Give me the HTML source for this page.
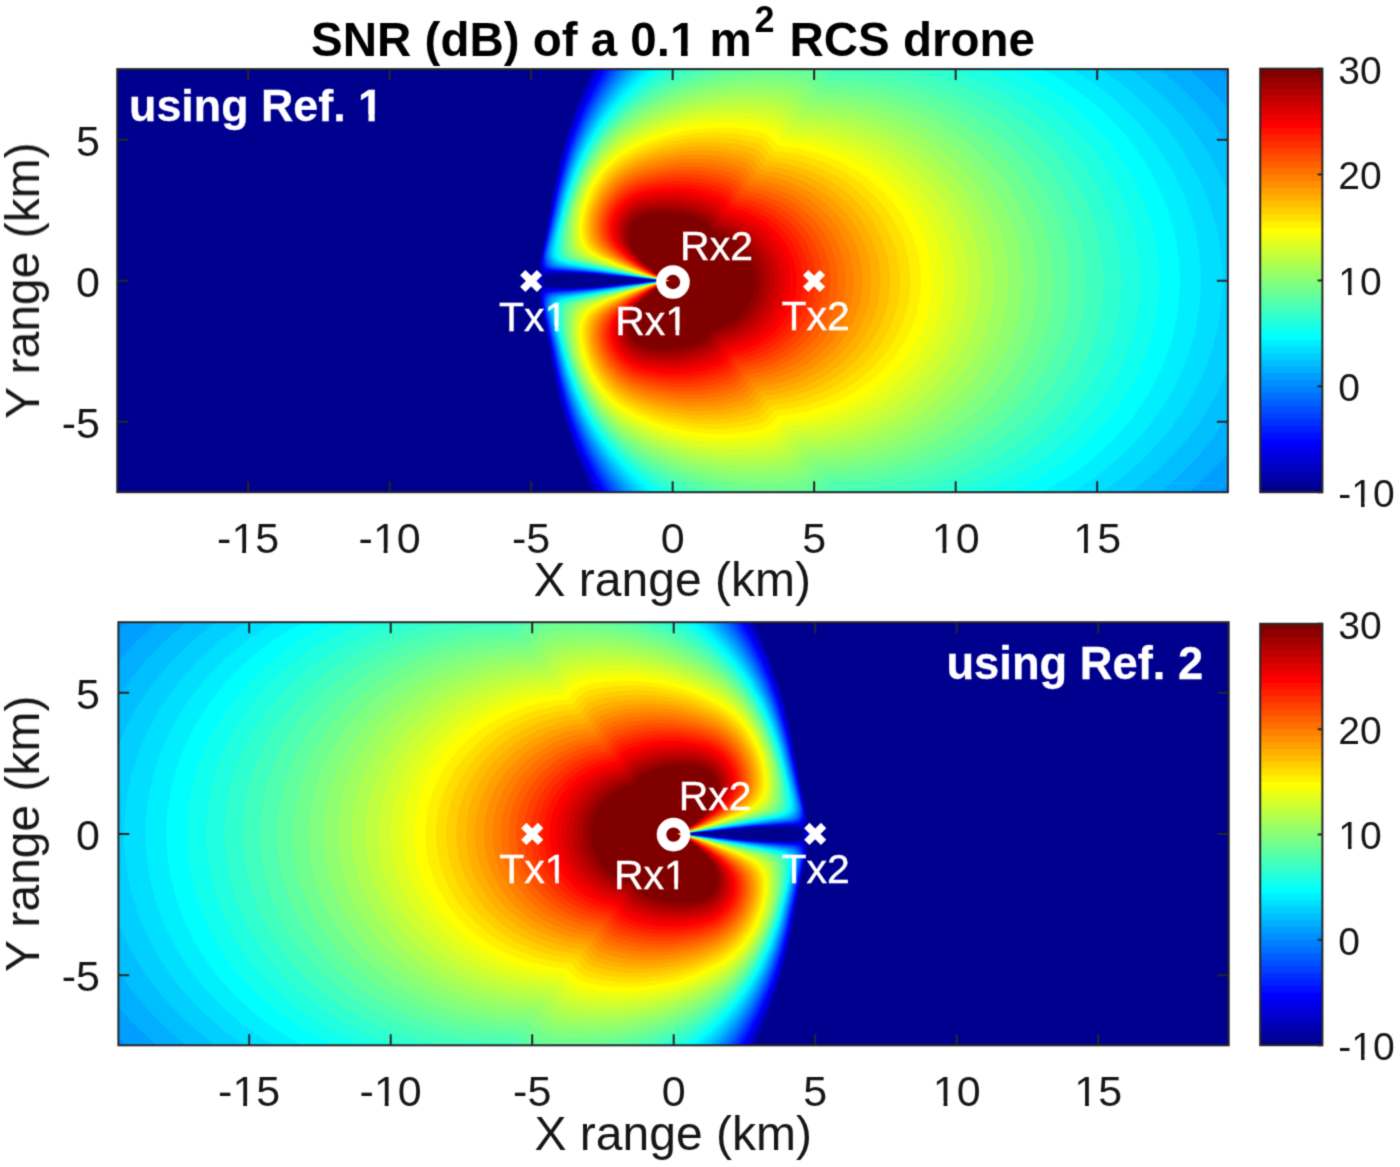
<!DOCTYPE html>
<html><head><meta charset="utf-8"><title>SNR (dB) of a 0.1 m2 RCS drone</title>
<style>
html,body{margin:0;padding:0;background:#fff;}
body{width:1400px;height:1167px;overflow:hidden;}
svg{display:block;}
text{font-family:"Liberation Sans",sans-serif;}
</style></head>
<body>
<svg width="1400" height="1167" viewBox="0 0 1400 1167" font-family="Liberation Sans, sans-serif">
<defs><filter id="soft" x="0" y="0" width="1400" height="1167" filterUnits="userSpaceOnUse" color-interpolation-filters="sRGB"><feConvolveMatrix order="3" kernelMatrix="0.0276 0.1111 0.0276 0.1111 0.4452 0.1111 0.0276 0.1111 0.0276" edgeMode="duplicate" preserveAlpha="true"/></filter>
<clipPath id="cp0"><rect x="117.25" y="69.1" width="1110.65" height="423.1"/></clipPath>
<clipPath id="cp1"><rect x="118.4" y="622.2" width="1110.3" height="423.1"/></clipPath>
<mask id="nf" maskUnits="userSpaceOnUse" x="0" y="0" width="1400" height="1167"><rect width="1400" height="1167" fill="#fff"/><g fill="#000"><rect x="233.49" y="547.75" width="8.66" height="6.75"/><rect x="246.04" y="547.75" width="8.35" height="6.75"/><rect x="374.99" y="547.75" width="8.66" height="6.75"/><rect x="387.54" y="547.75" width="8.35" height="6.75"/><rect x="933.84" y="547.75" width="8.66" height="6.75"/><rect x="946.38" y="547.75" width="8.35" height="6.75"/><rect x="1075.34" y="547.75" width="8.66" height="6.75"/><rect x="1087.88" y="547.75" width="8.35" height="6.75"/><rect x="1353.1" y="502.15" width="7.95" height="6.45"/><rect x="1364.58" y="502.15" width="7.67" height="6.45"/><rect x="1340.12" y="290.4" width="7.95" height="6.45"/><rect x="1351.59" y="290.4" width="7.67" height="6.45"/><rect x="234.54" y="1101.15" width="8.66" height="6.75"/><rect x="247.09" y="1101.15" width="8.35" height="6.75"/><rect x="376.04" y="1101.15" width="8.66" height="6.75"/><rect x="388.59" y="1101.15" width="8.35" height="6.75"/><rect x="934.89" y="1101.15" width="8.66" height="6.75"/><rect x="947.43" y="1101.15" width="8.35" height="6.75"/><rect x="1076.39" y="1101.15" width="8.66" height="6.75"/><rect x="1088.93" y="1101.15" width="8.35" height="6.75"/><rect x="1353.1" y="1055.15" width="7.95" height="6.45"/><rect x="1364.58" y="1055.15" width="7.67" height="6.45"/><rect x="1340.12" y="844.45" width="7.95" height="6.45"/><rect x="1351.59" y="844.45" width="7.67" height="6.45"/><rect x="546.49" y="325.9" width="8.31" height="6.6"/><rect x="558.5" y="325.9" width="8.01" height="6.6"/><rect x="667.26" y="329.9" width="8.31" height="6.6"/><rect x="679.27" y="329.9" width="8.01" height="6.6"/><rect x="546.79" y="877.9" width="8.31" height="6.6"/><rect x="558.8" y="877.9" width="8.01" height="6.6"/><rect x="665.96" y="883.9" width="8.31" height="6.6"/><rect x="677.97" y="883.9" width="8.01" height="6.6"/><rect x="359.69" y="114.38" width="8.79" height="8.12"/><rect x="374.72" y="114.38" width="8.24" height="8.12"/><rect x="671.77" y="48.81" width="9.26" height="8.39"/><rect x="687.64" y="48.81" width="8.68" height="8.39"/></g></mask>
</defs>
<g filter="url(#soft)">
<rect width="1400" height="1167" fill="#fff"/>
<g clip-path="url(#cp0)">
<rect x="117" y="69" width="1111" height="424" fill="#00008f"/>
<path fill="#00009f" d="M1227.5 492.5l-635.8 0-15.2-35.6-12-36.3-6-23.4-4.7-22.7-7.6-44-4.9-24-1.5-10 0-7-1-2-6.3-4.5-1.1-2.5 1.1-2 5.8-4 1.4-2 0-7 1.7-11 4.7-23 7.8-45 4.8-23 5.8-22.6 12-36.3 15-35.1 636 0 0 423zM580.4 287.5l36.1-2.6 42.5-4.4-60.5-5.4-31-1.4-12 0.4-8 1.3-3 1.7-1.3 3.4 1.4 4 4.9 2.1 12 1.1 18.9-0.2z"/>
<path fill="#0000af" d="M1227.5 492.5l-634.1 0-15.9-36.3-12-35.3-6.4-24.4-5.6-26.7-13-70.3 0-11-1.6-2-6.4-3.6-1.1-2.4 1.1-1.9 7.1-4.1 0.9-1.5-0.4-7.5 1.4-10 5.2-25 6.8-38.8 5.7-27.2 6.3-23.9 12-35.3 15.7-35.8 634.3 0 0 423zM586.1 287.5l68.4-6 5.4-1-58.4-5.4-29-1.7-23 0.8-5 1.2-1.7 2.1-0.6 3 0.8 4 1.5 1.6 2 0.7 16 1.4 23.6-0.7z"/>
<path fill="#0000bf" d="M1227.5 492.5l-632.3 0-9.7-20.4-9-21.7-8-22.8-6.1-21.1-6.9-29.5-8.5-46.5-5.1-24-1.4-10 1.3-7 0.7-1.4 1-0.4 20 0.9 22-0.8 69.8-6.3 5.4-1-77.2-6.9-21-0.7-19 0.9-1-0.4-1-2.4-1-6.5 1.5-10 4.9-23 8.6-47 7-30 6.5-22 7.5-21.4 9-21.7 9.5-19.9 632.5 0 0 423zM540.5 285.6l-3-0.3-4-1.7-2-1.9 0-1.9 4-2.9 5-1 1.1 2.6-0.1 5.2-1 1.9z"/>
<path fill="#0000cf" d="M1227.5 492.5l-630.4 0-10.6-21.6-9-21.2-7.7-21.2-6.3-20.9-7-28.9-9.3-49.2-4.7-21.4-1.5-10.6 0.8-5 1.7-3 2-0.7 22 0.1 22-1.1 71.9-7.3-74.9-7-20-0.9-21 0.1-2.5-1.2-1.3-3-0.7-5 1.5-10 4.6-21 9.4-49.7 7-28.9 6.5-21.4 7.5-20.7 9-21.2 10.3-21.1 630.7 0 0 423zM539.5 284.6l-3 0.1-3-1.2-2-1.9 0-1.8 4-2.7 4-0.2 1.2 2.6-0.2 3.7-1 1.4z"/>
<path fill="#0000df" d="M1227.5 492.5l-628.5 0-10.5-20.6-9-20.4-8-21.2-6.9-21.8-7.5-30-9.3-48-5.1-23-1.3-9 0.5-4 1.6-3.4 3.8-1.6 23.2-0.3 21-1.3 70.6-7.4-73.6-7.2-41-1.3-3.9-1.5-1.5-3-0.7-4 1.2-9 5.1-23 9.3-48 7.5-30.1 7-22.2 8-21.2 9-20.4 10.2-20.1 628.8 0 0 423zM538.5 284.1l-2 0.2-3-0.9-2-1.8 0-1.7 3-2.2 4.2-0.2 0.9 1 0.4 3-1.5 2.6z"/>
<path fill="#0000ef" d="M1227.5 492.5l-626.6 0-10.4-19.8-10-21.9-8-20.7-7-21.6-8-31.3-9.4-47.7-4.8-21-1.4-10 0.6-3.6 2-3.4 4-1.4 45-2.1 69.2-7.5-73.2-7.4-41-1.7-4-1.4-2-3.5-0.6-4 1.5-10 4.6-20 9.5-48.2 8-31.3 7-21.6 8-20.7 9-19.9 11.1-21.3 626.9 0 0 423zM537.5 283.8l-2 0.1-3-1.3-1-1 0-1.7 4-2.3 3 0.6 0.8 3.3-1.8 2.3z"/>
<path fill="#0000ff" d="M1227.5 492.5l-624.6 0-10.4-19.1-10-21.1-8.4-20.8-7.4-22-10.2-39.9-7.8-39.1-5.3-23-1-8 0.4-3 2-4 4.7-1.8 46-2.6 67.7-7.6-71.7-7.5-42-2.2-4.1-1.3-2.5-4-0.5-3 1.1-9 15-70.7 8-30.2 7-21 9-22.4 9-19.1 11.2-20.6 624.8 0 0 423zM536.5 283.6l-4-1-1-1 0-1.7 3-1.9 3.4 0.5 0.8 3-0.4 1-1.8 1.1z"/>
<path fill="#0010ff" d="M1227.5 492.5l-622.5 0-10.5-18.6-10-20.3-9-21.4-7-19.9-10.3-37.8-14.4-67-0.8-8 0.5-3.1 1.6-2.9 4.4-2.1 48-3.2 66.2-7.7-71.2-7.6-42-2.6-4.9-1.8-2.3-4-0.3-3 0.7-7 12.8-59.7 5-21.3 6-21.2 7-20.3 9-21.9 10-20.6 11.2-20 622.8 0 0 423zM537.5 282.6l-2 0.8-2-0.4-2-1.5 0-1.6 3-1.7 2.5 0.3 1.1 2-0.6 2.1z"/>
<path fill="#0020ff" d="M1227.5 492.5l-620.3 0-11.7-20-10-19.8-9-20.9-7-19.4-6-19.8-5-19.9-14.1-64.2-0.8-8 0.4-3 1.4-3 2.1-1.7 3-0.9 48-3.6 65.7-7.8-69.7-7.7-43-3-5-1.7-2.4-3.6-0.4-6 0.8-6.1 15-67.9 9-32.4 8-22.4 9-20.9 10-19.8 11.4-19.5 620.6 0 0 423zM536.5 282.8l-2 0.3-2-0.7-1-0.9 0-1.6 2-1.3 3 0.1 1.1 1.8-1.1 2.3z"/>
<path fill="#0030ff" d="M1227.5 492.5l-618.1 0-11.9-19.7-10-19-9-20.1-7.6-20.2-5.8-18-5.3-20-15.6-72 0.3-5 1.2-3 2.2-2 3.6-1.1 45-3.6 68.1-8.3-72.1-8.2-40-3-5.4-1.8-2.5-4-0.1-9 13-58.4 6-24.3 6-19.8 8-21.8 9-20.4 10-19.3 12.6-21 618.4 0 0 423zM535.5 282.8l-3-0.4-1-0.9 0-1.5 3-1.4 2 0.6 0.6 2.3-1.6 1.3z"/>
<path fill="#0040ff" d="M1227.5 492.5l-615.8 0-12.2-19.5-11-20.3-9-19.5-8-20.7-6-18.7-5-18.5-15-65.6-0.8-6.2 0.6-5 1.2-2.6 2-1.8 4-1.3 46-4 66.5-8.3-71.5-8.4-40-3.3-5-1.4-2-1.8-1.1-2.1-0.7-6 0.8-5.7 15-65.6 10-34.3 8-21.2 10-21.9 11-20.3 11.9-19 616.1 0 0 423zM535.5 282.6l-3-0.3-1-0.9 0-1.4 2-1.1 2.8 0.6 0.3 2-1.1 1.1z"/>
<path fill="#0050ff" d="M1227.5 492.5l-613.4 0-12.6-19.4-10-17.6-10-20.7-8-19.7-6-17.5-6-21.2-16.3-71.9 1-6 0.9-2 2.5-2 3.9-1.2 46-4.3 65.9-8.5-70.9-8.5-39.2-3.5-6.6-2-1.9-2-0.8-2-0.7-5 0.3-4 12.9-56.1 6-23.4 7-22.1 8-20.6 10-21.4 11-19.8 13.3-20.6 613.7 0 0 423zM534.5 282.6l-3-1.2 0-1.4 2-1 2.3 0.5 0.4 2-1.7 1.1z"/>
<path fill="#0060ff" d="M1227.5 492.5l-610.9 0-13.1-19.5-11-18.7-10-20.2-8-19.2-6.4-18.4-5.8-20-16.4-71 1.7-8 2.9-2.5 4-1.2 47-4.8 64.2-8.5-69.2-8.6-40-3.8-6.1-1.6-2.5-2-0.9-2-1.1-6 0.6-4.8 14.6-62.2 8.4-28.9 7-19.2 9-20.5 10-19.1 12-19.5 8.8-12.8 611.2 0 0 423zM535.5 281.8l-3 0.4-1-0.8 0-1.4 2-0.9 1.9 0.4 0.5 1-0.4 1.3z"/>
<path fill="#0070ff" d="M1227.5 492.5l-608.3 0-13.7-19.6-11-18.1-10-19.3-9-20.8-7-19.7-6-20.5-16-68.8 2.3-8.2 2.5-2 3.2-1.1 49-5.4 62.5-8.5-67.5-8.6-41.9-4.4-6.1-1.9-2.5-3.1-1.5-6 0.6-5 14.4-60.7 7.6-26.3 7.4-20.2 8-18.3 9-17.5 11-18.3 14.4-20.7 608.6 0 0 423zM534.5 282.1l-2 0-1-0.8 0-1.3 2-0.8 1.4 0.3 0.7 1-1.1 1.6z"/>
<path fill="#0080ff" d="M1227.5 492.5l-605.5 0-14.5-19.9-12-19.1-10-18.8-9-20.3-7-19.1-6-19.9-16.3-68.9 0.7-4 2.2-5 2.4-1.6 4-1.2 43-4.9 66.8-9.3-71.8-9.4-35-3.8-7.3-1.8-3.1-3-1.8-6 0.4-5 13.8-57.9 6.9-24.1 6.8-19 7.3-17.4 9-18 10-17 20.1-28.6 605.9 0 0 423zM534.5 281.9l-2 0.1-1-0.7 0-1.2 2.9-0.6 0.9 1-0.8 1.4z"/>
<path fill="#008fff" d="M1227.5 492.5l-602.6 0-15.4-20.3-12-18.4-11-20-9-19.7-7.3-19.6-6.7-21.9-15.5-65.1 0.5-4 2.2-5 2.5-2 3.3-1.1 44-5.4 66.1-9.5-108.5-14-3.7-1-2.9-1.7-2.9-5.3-0.6-4 0.5-4 13-54 8-27.5 6-16.6 7-16.4 8-16.1 9-15.5 11-16.5 14-18.4 603 0 0 423zM534.5 281.7l-2 0.3-1-0.7 0-1.2 2.4-0.6 1.1 1-0.5 1.2z"/>
<path fill="#009fff" d="M1218.5 492.5l-590.6 0-15.4-19.5-12-17.4-11-18.8-10-20.8-8-20.4-7-22.2-15.6-64.9 0.5-5 2.8-5 2.3-1.6 4-1.3 44-5.6 64.3-9.5-106.3-14.2-5-1.3-2.7-1.5-3.2-5-0.7-4 0.6-5.3 12-49.9 7.8-26.8 6.2-17.3 7-16.4 8-15.9 8-13.8 13-19.3 16-20.3 591.9 0 8.1 7.5 0 407.5-9 8zM533.5 281.9l-2-0.7 0-1.1 2-0.5 1 0.7-0.1 1.2-0.9 0.4z"/>
<path fill="#00afff" d="M1188.5 492.5l-557.3 0-16.7-20.2-13-18.2-11-18.4-10-20.2-8-19.9-7-21.5-6-22.8-9.6-41.8 0.3-5 1.3-3 2.5-3 4.5-2.1 108.5-15.9-106.5-14.9-6-2.2-4-5.3-0.7-4.6 0.8-6 11.9-49.2 8-26.7 7-18.6 7-15.6 8-15.2 9-14.8 13-18.2 16.2-19.7 558.8 0 19.6 18 18.4 20 0 346.5-19 20.6-20 17.9zM533.5 281.8l-2-0.6 0-1.1 2-0.4 0.9 0.8-0.9 1.3z"/>
<path fill="#00bfff" d="M1158.5 492.5l-523.8 0-17.2-19.8-14-18.7-12-19.3-10-19.8-9-22.1-7-21.6-6-22.8-8.6-37.9 0.1-5 1.5-3.7 3.5-3.3 5.3-2 106-16-103.6-15-7.2-2.2-3.3-2.8-1.8-3-0.5-6 1.6-8.8 11-45.2 8-26 7-18.1 8-17.2 9-16.3 10-15.3 13-17.1 15.7-18 525.8 0 18.9 16 18 18 16 19 14.6 20.7 0 275.1-15 21.2-17 20-20 19.5-13.6 11.5-3.4 2zM533.5 281.7l-2-0.5 0-1.1 2-0.2 0.7 0.6-0.7 1.2z"/>
<path fill="#00cfff" d="M1129.5 492.5l-491.1 0-16.9-18.4-15-18.9-12-18.2-11-20.6-9-20.9-8-23.7-8-30.5-6.6-30.8 0.2-5 1.4-3.3 4.8-3.7 4.2-1.4 105-16.6-103-15.6-7-2.4-3-2.1-2-2.9-0.6-3 0.2-5 2.4-12.1 9-37.1 9-28.9 7-17.6 9-18.6 9-15.6 11-16 14-17.4 15.4-16.7 492.9 0 4.1 3 15.1 12 14.5 13.2 13.3 13.8 12.7 15 10.9 15 10 16 8.6 16 7.5 17 0 180.5-7.8 17.5-9.2 17.1-10.8 16.9-12 16-13.2 15.1-14.9 14.9-16.3 14-13.8 10zM533.5 281.5l-2-0.4 0-1 2 0 0.5 0.4-0.5 1z"/>
<path fill="#00dfff" d="M1100.5 492.5l-457.9 0-18.1-18.5-16-19.2-13-19.1-11-20-10-23-8-23.7-9-35.1-4.5-23.4 0.2-5 1.5-3 2.8-2.3 6.7-2.7 103.5-17-22.2-3-79.2-13-8.8-3.2-2.4-1.8-1.7-3-0.5-4 0.7-7 5.9-26.4 7-26.6 8-23.7 8-18.9 9-17.3 10-16.1 11-14.9 14-16.3 15.5-15.8 459.8 0 22.7 16.5 22.9 20.5 20.7 23 17.7 25 14.2 26 6 14 5.1 14 7.3 28 2.2 14 1.5 15 0.5 14-0.4 15-1.4 15-2.2 14-7 28-5 14-5.9 14-13.9 26-17.5 25-20.4 23-11.5 11-12.9 11-14 10.5-10 6.5zM532.5 281.7l-1-0.6 0-0.9 2.3 0.3-1.3 1.2z"/>
<path fill="#00efff" d="M1071.5 492.5l-424.3 0-0.7-0.6-19-18.2-17-19.4-13-18.3-12-21-10-22.5-8-23-9-34.5-3.1-14.5-1.3-10 0.4-5 1.7-3 3.3-2.3 6-2.1 102.3-17.6-21.7-3-77.6-13.4-10.5-3.6-2.3-2-1.3-3-0.2-5 1.1-9 6.2-27.6 7-25.1 8-22.4 8-17.9 10-18.2 11-16.5 13-16.1 14-15.1 14.1-13.1 426.2 0 22.7 15 20 15.9 21.6 21.1 18.7 23 15.4 24 12.6 26 9.2 27 3.4 14 2.4 14 2.2 28-1.4 28-4.9 28-8.4 27-11.6 26-15 25-18.2 23.5-20.9 21.5-24.4 20-13.7 9.5-11 6.5zM532.5 281.6l-1-0.5 0-0.9 2.1 0.3-1.1 1.1z"/>
<path fill="#00ffff" d="M1042.5 492.5l-390.1 0-18.9-16.4-16-16.7-13-16.1-12-18.3-10-18.9-9-21.6-8-24.8-8-33.1-2.2-17.1 0.6-4 1.9-3 3-2 6.7-2.2 100.5-17.8-21.3-3-76.2-13.7-10.6-3.3-2.6-2-1.6-3-0.3-5 1.1-10.1 6-27.3 7-24.6 9-24.1 9-19 11-18.6 12-16.4 15-17 13-12.7 13.2-11.2 391.8 0 17 9.8 16 10.6 15.1 11.6 14.6 13 19.7 21 17 23 13.8 24 11 26 7.6 27 4 27 0.6 27-2.8 27-6.3 27-9.6 26-12.9 25-15.6 23-18.9 22-21.6 20-23.7 17.6-26 15.4zM532.5 281.5l-1-0.5 0-0.8 1.9 0.3-0.9 1z"/>
<path fill="#10ffef" d="M1011.5 492.5l-353 0-19-14.7-18-17.4-13-14.9-12-16.8-10-17.3-9-19.4-9-25.1-7-25.9-3.7-18.5-1.1-11 0.3-5 1.6-3 2.4-2 8.7-3 98.4-18-26.4-4-74-14-5.7-2-3-2-1.8-3-0.6-5 2.1-17 6.8-28.7 8-25.1 9-21.5 10-18.9 11-16.8 13-16 16-16.4 13-11.4 12.2-9.2 355.7 0 24.1 12.5 22 14.1 20 15.7 18.4 17.7 17.7 21 15.2 23 12 24 9.2 26 5.6 26 2.3 27-1.2 27-4.5 26-7.6 25-11.2 25-14.4 24-17.2 22-19.6 20-22.7 18.4-25.7 16.6-15.1 8-9.2 4zM532.5 281.4l-1-0.4 0-0.8 1.8 0.3-0.8 0.9z"/>
<path fill="#20ffdf" d="M980.5 492.5l-314.4 0-13.6-8.6-14-10.9-14-12.9-13-14-11-14.3-10-15.8-9-17.6-7-16.8-7-21-6.2-24.1-2.9-20-0.4-6 0.5-4 1.9-3 2.8-2 9.4-3 95.7-18-25.9-4-75.4-15-4.7-2-3.1-3-1.1-4 0-5 2.4-18.5 7-28.1 8-23.7 10-22.4 11-19.2 12-16.6 14-15.6 16-14.9 13-10.2 13.7-8.8 316.6 0 15.7 6.5 15.3 7.5 14.7 8.3 14 9.2 13 9.7 12.7 10.8 11.4 11 10.8 12 16.4 22 13.2 23 10.1 24 7 25 3.8 26 0.5 26-3 26-6.2 25-9.6 25-12.3 23-15.4 22-17.8 20-20.6 18.5-23 16.5-25 14.2-27 11.8zM532.5 281.2l-1-0.2 0-0.8 1.6 0.3-0.6 0.7z"/>
<path fill="#30ffcf" d="M944.5 492.5l-268.2 0-19.8-10.4-19-13.8-20-18.7-15-17.9-9-13.4-8-14.4-7.2-15.4-6.8-18.2-6-20.1-4-17.7-2-19 0.7-7 1.3-2.1 3-2.3 11.1-3.6 92.9-18-25.3-4-65.3-13-11.1-3-5-3-2.1-4-0.2-5 1.1-14 4.9-23 7-23.3 8-20.2 10-19.7 11-17.1 12-15 16-16.1 16-13.2 14-9.3 15.7-8.1 271.9 0 20.4 6.8 19.4 8.2 18.6 9.6 18 11.2 16.5 12.2 14.9 13 13.6 14.1 12.9 15.9 14.3 22 11.6 24 8 24 4.9 25 1.7 26-1.7 25-5 25-8.5 25-11.9 24-14.3 21.7-17.1 20.3-19.9 18.7-22 16.4-25 14.7-27 12.1-25 8.1zM532.5 281.1l-1-0.2 0-0.6 1.5 0.2-0.5 0.6z"/>
<path fill="#40ffbf" d="M900.5 492.5l-212.2 0-15.8-6.8-15-7.7-11-6.9-12-9.1-12-10.7-11-11.4-10-12.5-9-13.6-7-12.6-7-15.1-6-15.8-4.9-15.8-5.5-25-1.2-17 1.1-6 1.4-2 2.7-2 8.4-3 66.9-14 27.2-5-19.6-3-63.4-13-13-3-5.5-2-4.1-3-1.9-5 0.4-13 1.6-13 5.4-21.7 8-23.5 9-20 11-19 12-16.2 13-14 17-14.8 16-11.1 15-7.9 17.6-7.8 217 0 13.4 2.7 24 6.5 24 9 22.4 10.8 21.6 13.2 19.5 14.8 17.5 16.4 15.9 18.6 13 19 12 23 8.8 24 5.5 25 2.1 25-1.2 25-4.6 25-7.9 24-11.5 24-14.3 22-16.8 20-20 18.7-22 16.3-24.2 14-25.8 11.4-27 8.7-28 5.9zM532.5 280.9l-1 0 0-0.6 1.3 0.2-0.3 0.4z"/>
<path fill="#50ffaf" d="M831.5 492.5l-128.1 0-20.9-7.5-20-9-15-8.4-15-10.9-15-13.5-12-13.5-11-15.5-9-15.8-8-17.6-7-19.7-5-18.6-2.2-13-0.7-18 0.9-4 2.1-3 5.4-3 10.6-3 59.9-12.9 27.2-5.1-24.1-4-65.1-14-9.7-3-5.3-3.7-1.5-3.3-0.5-6 1-16 1.3-8 6.7-25.3 9.9-25.7 10.1-19.3 11-16.6 12-14.2 15-14.1 15-11.4 14-8.3 21-9.9 22.4-8.2 130.5 0 3.1 3.2 17 0 16 0.9 17 1.9 16 2.8 26 6.7 24 8.7 22.6 10.8 21.3 13 19.1 14.6 17.4 16.4 15.3 18 12.8 19 10.7 21 7.8 21 5.6 24 2.3 24-1 25-4.3 24-7.3 23-10.7 23-13.3 21-16.5 20-18.8 17.9-20 15.2-23 13.8-24 11-23.2 8.1-24.8 6.1-31 4.3-33 1-4 3.6zM532.5 280.7l-1 0.2 0-0.6 1 0.4z"/>
<path fill="#60ff9f" d="M815.5 492.5l-90.5 0-20.5-5.1-20-6.6-19-8.1-18-9.4-14-9.6-14-11.8-12-12.7-10-13.2-10-16.6-8-16.7-7-18.6-5.5-19.6-2.1-12-0.8-19 1.4-6 4-4 7.5-3 11.9-3 51.6-11.5 28.3-5.5-24.3-4.2-61.9-13.8-12.1-4-4.7-4-1.6-5-0.1-9 1.1-14 2.3-11.7 4-14.3 5-14.3 6-14.2 6-11.8 11-17.6 12-14.9 14-13.5 15-11.5 16-9.4 21-9.8 21-7.6 21-5.7 3.1-0.7 94.5 0 6.4 4.2 6 5.9 34 1.5 16 2.1 15 2.8 15 3.7 15.2 4.8 14.8 5.7 13.9 6.3 21.1 11.8 18.8 13.2 17.3 15 15.7 17 13.3 18 10.9 19 8.6 20 6.2 21 3.7 23 0.6 23-2.4 23-5.3 22-7.8 21-11 21-13.6 19.6-16 18-17 15.3-18 13.2-20.2 11.9-21.6 10-25.2 8.7-26 6.1-27 3.5-29 1.1-6.9 6.6-7.1 4zM532.5 280.6l-1 0.2 0-0.5 1 0.3z"/>
<path fill="#70ff8f" d="M789.5 490.5l-20 0.6-20-0.9-20-2.6-20-4.2-20-5.9-19-7.2-19-9.1-15-9.1-14-10.8-11-10.6-11-13.4-9-13.6-9-17.1-7-17-6-19.1-3-15-0.9-15 0.5-9 2.3-5 3.9-3 7.8-3 11.6-3 48.8-11.3 28.4-5.7-25.4-4.5-57.9-13.5-12.3-4-3.3-2-2.6-3-1.7-7 0.3-14 1.4-12 3.1-13.1 5-15.5 6-14.8 7-14.1 8-13.1 11-14.6 13-13.3 16-12.6 16-9.6 22-10.2 23-8.2 23-5.8 24-3.8 15-1.1 16-0.3 17 0.8 9 1.3 7 2.3 6 3.2 5 3.8 5 5 21 0.5 21 2.2 21 3.9 20 5.5 27.4 10.6 12.6 6.2 13 7.5 19 13.2 16.3 14.1 15 16 13.4 18 11 19 8.1 19 5.9 20 3.4 20 0.9 22-1.7 21-4.5 21-6.9 20-9.8 20-11.6 18-13.9 17-16.6 16.2-16 12.6-17.3 11.2-18.7 9.8-19 7.9-22 6.9-23 4.9-24 3-24 0.7-7.1 6.8-7.9 4.8-9 2.9-11 1.3zM531.5 280.8l0.9-0.3-0.9 0.3z"/>
<path fill="#80ff80" d="M770.5 484.5l-20-0.4-19-1.9-19-3.4-19-5-19-6.6-19-8.4-16-8.7-14-9.8-12-10.6-10-11.3-10-14.3-8-14.2-8-18.1-6-18.1-3-13.2-1.3-16 0.2-9 1.4-6 3.2-4 5.5-3 13-4 36.5-9 42-9-31.4-6-52.6-13-10.7-4-2.9-2-2.4-3-1.8-8 0.4-15 1.5-12 4-15 5.4-15.4 7-15.5 8-14.2 9-13 13-14.5 15-12.5 16-10.1 21-10.2 22-8.2 23-6.2 23-3.9 23-1.7 19 0.1 17 1.6 7 1.9 7 3.4 5 3.7 6 5.8 19 0.6 18 1.8 18 3.2 17 4.3 18 6.1 18 7.7 17 9.1 15 9.8 16.8 13.3 15.3 15 13 16 11.6 18 8.8 18 6.7 19 4.4 20 1.8 20-0.5 20-3.1 20-5.7 20-7.9 19-10.2 18-12.5 17-14.7 16-16 14-15.4 11-16.4 9.7-17.5 8.3-18.5 7-19 5.4-20 4-20 2.3-21 0.7-9 8.2-10 5-10 2.2-20 1.2zM531.5 280.8l0.8-0.3-0.8 0.3z"/>
<path fill="#8fff70" d="M777.5 477.5l-19 0.7-19-0.9-19-2.3-19-4-19-5.5-18-6.9-18-8.6-15-8.9-11-8.2-10-9.5-9-10.6-9-13.1-8-14.7-7-16.4-5.2-16.1-2.7-14-0.9-14 0.6-10 2.4-6 4.7-4 10-4 18.3-5 35.9-9 28.5-6-26.4-5-51.2-13-14.2-5-3.2-2-2.7-3-2.2-6-0.5-9 1-15 1.8-10.2 4-13.7 5-13.2 7-14.8 7-12 10-13.7 12-12.8 14-11 15-9 21-10 21-7.7 22-5.8 23-3.7 15-1.3 16-0.2 16 0.7 12 1.6 6 1.9 6 3 5 3.7 6 5.9 16 0.5 16 1.6 16 2.7 16 3.8 15 4.7 15 5.9 14 6.6 13 7.4 17.6 12.1 15.2 13 14.3 15 12.1 16 10 17 8 18 5.9 19 3.4 19 1 20-1.4 19-3.9 20-6.3 19-8.5 18-11.4 18-12.9 16-15.2 15-14.9 11.9-15.3 10.1-16.8 9-17.9 7.7-20 6.5-21 4.8-21 2.8-22 1-8 7.6-7.9 4.6-9.1 2.7-12 1.3zM531.5 280.7l0.7-0.2-0.7 0.2z"/>
<path fill="#9fff60" d="M768.5 471.5l-18 0.5-19-1.1-19-2.6-18-4-18-5.5-17-6.7-17-8.4-15-9-10-7.7-10-9.9-9-11.3-8-12.4-7.1-13.9-6.5-16-4.3-15-1.8-12-0.6-13 1-9 3-6 5.2-4 10.1-4 28.5-8 27.6-7 23.6-5-30-6-48.1-13-12.6-5-3-2.2-2.4-2.8-2.2-6-0.7-9 0.9-14 2.1-12 4.3-14 5-12.6 6-12.2 7-11.7 10-13.3 12-12.2 13-9.7 17-9.7 20-9 21-7.2 21-5.1 22-3.2 14-0.9 15-0.1 16 1 11 1.6 6 2 6 3.2 9.8 9.1 16.2 0.7 16 1.8 15 2.7 15 3.8 15 4.9 14 5.7 14 6.9 12.8 7.5 16.7 12 14.7 13 12.8 14.1 11.6 15.9 9.5 17 7.2 17 5.1 18 3 19 0.6 19-1.8 19-4.2 19-6.4 18-8.6 17.2-11 16.8-12.5 15-14.5 14-14.1 11-14.9 9.7-16 8.4-17 7.2-19 6.1-19 4.3-20 2.7-20 1.1-8 7.7-8.4 4.8-8.6 2.4-16 1.6zM531.5 280.7l0.6-0.2-0.6 0.2z"/>
<path fill="#afff50" d="M763.5 465.5l-18 0.5-18-0.9-18-2.5-18-3.9-17-5.1-17-6.6-17-8.3-15-8.9-10-7.8-9-9.1-8-10-8-12.5-7-13.8-5.6-14.1-3.5-12-2-13-0.6-13 1.2-9 2.9-6 4.8-4 11.8-5 23.5-7 26-7 27.3-6-29.3-6-45.9-13-12.5-5-4.3-3-2.4-3-2.3-6-0.8-9 0.6-12 1.9-12 3.1-11 4.1-11 6-12.9 6-10.5 10-14 11-11.7 11-8.7 16-9.5 20-9.4 20-7.2 21-5.4 22-3.5 15-1 15-0.1 16 1 13 1.9 6 2.1 5.3 2.9 4.7 3.8 5 5.4 15 0.8 14 1.5 15 2.8 14 3.5 14 4.5 13 5.3 13 6.3 12.3 7.1 15.7 11 15 13 12.9 14 11 15 9.2 16 7.3 17 4.9 17 3 18 0.8 19-1.6 18-3.8 18-5.8 17-8.2 17-10.2 16-12.3 15-14.3 14-13.9 11-14 9.1-16 8.5-16 6.8-18 5.9-18 4.2-19 2.7-19 1.1-7.6 7.7-8.4 4.9-9 2.4-16 1.7zM531.5 280.7l0.5-0.2-0.5 0.2z"/>
<path fill="#bfff40" d="M760.5 459.5l-17 0.7-18-0.7-18-2.2-17-3.5-17-4.9-16-6-16-7.5-16-9.2-9-6.6-9-8.7-8-9.7-7-10.5-7-13-5.1-12.2-3.9-12.3-2.3-12.7-0.8-13 1-10 2.5-6 5.2-5 10.6-5 25.1-8 24.9-7 26.7-6-28.6-6-40.9-12-15.3-6-4.5-3-2.8-3-2.8-6-1.1-8 0.3-11 1.9-13 2.5-10 4-11 10.4-20.7 9-13.2 11-12.1 10-8.2 14-8.5 19-9.3 20-7.6 20-5.4 21-3.6 16-1.4 16-0.2 16 1 14 2 6 2 6 3.3 4.7 3.9 4.3 5.2 27 2.3 13.8 2.5 13.2 3.3 25 8.9 12.1 5.8 11.9 6.7 15.1 10.3 14.2 12 12.7 13.3 11.1 14.7 9 15 7.1 16 5.3 17 3.2 17 1 18-1.1 17-3.4 18-5.5 17-7.4 16-9.9 16-11.9 15-13.5 13.5-12.9 10.5-13.4 9-14.7 8.1-16 7-17 5.8-18 4.4-18 2.7-19 1.4-7 7.5-8 4.8-8 2.4-16 1.9z"/>
<path fill="#cfff30" d="M744.5 454.5l-17-0.1-16-1.4-16-2.7-16-3.9-16-5.2-15-6.3-15-7.6-13-8-9-7.5-8-8.6-8-10.8-7-12-5.9-12.9-3.7-11-2.6-12-1.2-12 0.2-10 1.8-7 3.4-5.4 6.2-4.6 11.6-5 27.7-9 21.3-6 22.2-5-11.5-2-16.4-4-39.1-12-16.7-7-4.2-3-3.1-3.7-2.5-6.3-1-9 0.6-11 2.2-13 2.8-10 4.3-11 5.6-11.1 6-9.8 10-12.8 11-10.4 13-8.5 18-9.3 19-7.7 20-5.9 20-3.9 20-2 26 0.4 14 1.5 9 1.7 5 2 5 2.9 8.8 8.9 15.2 1.1 13.9 1.9 14.1 3 13 3.7 13 4.7 13 5.8 12 6.4 11.5 7.4 14.5 11.2 13.2 12.8 11.5 14 9.1 14 7.5 15 5.8 16 3.7 16 1.8 17-0.2 17-2.4 17-4.3 16-6.4 16-8.3 15.2-10.5 14.8-11.6 13-13.4 12-12.2 9-13.3 8.2-14 7-14.6 5.8-15.4 4.8-15 3.3-15 2.2-16 1.1-9 9-5 2.9-6 2.3-14 2.2-17 1.2z"/>
<path fill="#dfff20" d="M749.5 448.5l-16 0.7-17-0.7-16-1.9-16-3.2-16-4.6-15-5.6-15-6.9-14-7.8-9-6.5-8-7.4-7-8.3-7-10.3-6-11.1-5-12-3-10.4-2.2-12-0.7-12 1.2-9 3.2-7 5.5-5.1 11.9-5.9 25.8-9 23.7-7 21.7-5-11.2-2-16-4-34.6-11-17.2-7-5.1-3.1-4.1-3.9-2.8-5-1.7-7-0.2-9 1-10 1.9-10 2.9-9.9 4-9.9 5.2-10.2 8.8-13.3 9-10.3 10-8.5 12-7.5 18-8.9 19-7.3 19-5.3 20-3.5 16-1.4 16-0.1 16 1.2 15 2.3 6 2 5 2.8 4.5 3.8 4.5 5.6 25 2.6 24 5.5 22.5 8.3 20.5 10.8 14.9 10.2 12.9 11 11.4 12 9.9 13 8.4 14 6.8 15 5.1 16 2.9 16 1 17-1 16-3.3 17-5.3 16-7 15-9.3 15-11.3 14-12.1 12-12 9.7-12.4 8.3-13.6 7.4-14 6.2-15 5.2-16 4-16 2.7-17 1.3-7 8-8 4.7-8 2.2-18 2.3z"/>
<path fill="#efff10" d="M740.5 443.5l-15 0.4-16-0.9-15-2-15-3.2-15-4.4-15-5.7-15-7-12-7-9-6.8-7-6.7-7-8.5-7-10.8-5-9.8-4.1-10.6-3.2-12-1.6-11-0.2-11 2.1-9 3.8-6 6.2-4.9 13-6.1 25.2-9 19.8-6 21.1-5-10.9-2-15.6-4-33-11-18.5-8-4.6-3-4-4-2.7-5-1.7-7-0.3-8 1-10 2.2-10.9 3-9.8 4-9.6 5-9.3 8-11.7 10-10.9 10-7.8 13-7.7 18-8.3 19-6.6 19-4.7 19-2.7 15-0.9 14 0.2 15 1.4 14 2.4 5.3 1.9 5.1 3 4.4 4 4.2 5.2 24 2.6 23 5.5 22 8.4 20.6 11.3 13.9 10 12.4 11 10.8 12 9.4 13 7.9 14 6.2 15 4.2 15 2.3 15 0.6 16-1.5 16-3.5 16-5.4 15-6.9 14-9 14-10.8 13-12.4 12-11.5 9-12.3 7.9-13 6.9-13 5.6-14 4.7-14 3.4-15 2.5-15 1.3-7 7.9-4 2.9-5 2.3-13 2.8-17 1.8z"/>
<path fill="#ffff00" d="M734.5 438.5l-14 0.3-15-0.9-15-2-14-3-14-4.1-14-5.2-14-6.5-12-6.8-8-5.9-8-7.6-7-8.5-6-9.3-5-9.9-4-10.6-2.8-11-1.5-10 0-11 1.9-8 3.7-6 6-5 14.2-7 24-9 19.1-6 20.6-5-10.7-2-15.1-4-31.7-11-17.9-8-5.9-4-3.8-4-2.7-5-1.5-6-0.4-8 0.7-9 2-10 3-10 3.8-9.3 5-9.4 8-11.5 9-9.6 10-7.8 13-7.5 18-8.1 18-6.1 18-4.2 19-2.6 15-0.7 14 0.4 15 1.6 13 2.5 5 1.9 5 3.2 8 8.7 23 2.7 22 5.5 21.1 8.3 19.7 11 13.2 9.7 11.4 10.3 10.7 12 9.2 13 7.5 14 5.6 14 3.8 14 2.1 15 0.4 15-1.5 15-3.4 15-5.4 15-7 14-8.6 13-10.8 12.8-11.8 11.2-10.3 8-11.9 7.7-12 6.4-13 5.5-13 4.4-13 3.3-14 2.4-14.1 1.3-7.9 8.7-5 3.2-5 1.9-14 2.6-16 1.6z"/>
<path fill="#ffef00" d="M730.5 433.5l-14 0.3-14-0.7-14-1.9-13-2.6-14-3.9-13-4.7-14-6.3-11-6.1-8-5.8-7.9-7.3-6.1-7.1-6-8.9-5-9.5-4-10.1-2.9-10.4-1.6-10-0.1-11 1.9-8 3.7-6.1 7-5.9 13.8-7 23-9 18.3-6 20.1-5-21.8-5-31.1-11-19.8-9-6-4-4-4-3-5-1.7-6-0.6-7 0.5-8 1.5-9 2.8-9.9 3.5-9.1 4.5-8.8 7-10.6 9-10 10-8.2 11-6.6 17-7.8 18-6.2 18-4.3 18-2.6 15-0.7 14 0.3 15 1.6 14 2.7 5 1.9 5 3.1 8 8.9 21 2.6 21 5.3 20 7.8 18 10 13 9.4 11.4 10.2 9.9 11 8.7 12 7.2 13 5.8 14 3.9 14 2.2 14 0.5 15-1.3 14-3.2 15-4.9 14-6.9 14-8.3 12.7-10 12.1-11 10.6-10 7.9-11 7.3-11.8 6.4-12.2 5.4-12 4.2-13 3.4-13 2.4-14 1.4-8 8.9-4 2.6-5 2.1-15 3-16 1.6z"/>
<path fill="#ffdf00" d="M729.5 428.5l-13 0.5-14-0.4-13-1.4-13-2.4-14-3.6-13-4.5-13-5.5-11-5.7-8-5.4-7-6.1-6.9-7.5-5.7-8-5.1-9-4.2-10-3-10-1.7-9-0.4-10.3 1.6-8.7 3.8-7 6.6-6 12.8-7 24.3-10 17.6-6 19.6-5-21.3-5-27.4-10-21.6-10-6-4-4.2-4-3.2-5-1.7-5-0.9-6.2 0.2-7.8 3.4-17 7-17 6.4-10.4 8-9.6 9-8.1 10-6.6 15-7.2 17-6.3 17-4.6 17-2.9 16-1.2 16 0.1 16 1.7 15 2.9 5 1.8 5 3 3.6 3.4 4.4 5.7 19 2.4 19 4.7 18 6.9 17 9 12.1 8.3 11.7 10 10.2 10.8 8.4 11.2 7.1 12 5.8 13 4.1 13 2.6 14 0.9 15-0.9 14-2.7 14-4.5 14-6.1 13-8 13-8.7 11-10.9 11-9.6 8-10.5 7.2-11 6.2-12.1 5.6-11.9 4.3-13 3.6-13 2.5-13 1.4-4 5.2-4 3.9-4 2.5-5 2.1-14 2.8-14 1.7z"/>
<path fill="#ffcf00" d="M728.5 423.6l-13 0.7-13-0.2-13-1.1-13-2.2-13-3.1-12-3.8-13-5.1-11-5.4-8-5.1-7-5.8-6-6.1-6.1-7.9-4.9-8-4.2-9-3.4-10-2-9-0.7-11 1.5-9 3.7-7 6.2-6 11.8-7 22.9-10 19.5-7 19.1-5-20.7-5-26.5-10-20.8-10-6-4-4.3-4-2.9-4-2.1-5-1.2-6-0.2-6 0.8-8 1.7-8 6-16 5.8-10.2 7-9.2 8-7.9 10-7.3 13-6.7 16-6.3 15-4.4 16-3.3 17-1.8 17-0.1 17 1.5 16 3 6 1.9 5 3 4 3.8 4 5.6 17 2.2 17.3 4.2 16.3 6 15.4 7.8 12 7.8 11 8.9 9.6 9.5 8.9 11 7.6 12 5.8 12 4.5 13 2.9 13 1.3 14-0.5 14-2.3 14-3.8 13-5.5 13-7.5 12.9-8.4 11.1-10.4 11-9.3 8-9.8 7-11.1 6.5-11 5.3-12 4.5-12 3.5-13 2.6-13 1.5-6 7.7-7 4.7-12 3.2-17 2.6z"/>
<path fill="#ffbf00" d="M718.5 419.5l-24-0.2-24-3.6-13-3.4-12-4.1-12-5-9-4.8-7-4.9-7-6.3-6-6.7-5-7.1-4.4-7.9-3.8-9-2.6-9-1.5-9 0.1-10 2.3-8 3.9-6 6.8-6 14.3-8 20.4-9 16.3-6 18.6-5-20.1-5-25.5-10-20.1-10-5.9-4-5.3-5-3.2-5-1.8-5-0.9-6 0-6 1.1-8 2-8 6.3-15.2 6.1-9.8 7.9-9.2 8-7.1 10-6.4 15-6.8 16-5.4 16-3.9 16-2.3 15-0.7 15 0.5 15 1.9 14 3.1 5 2 4 2.6 3.6 3.7 3.4 5.2 19 2.9 17 4.6 17 6.9 15 8.4 11.1 8 10.1 9 9 10 7.9 11 6.7 12 4.9 12 3.4 12 2.1 13 0.4 13-1.1 13-2.7 13-4.5 13-5.9 12-7.4 11.6-8.5 10.4-10.2 10-8.8 7-9.5 6.4-10.1 5.6-10.9 4.9-21 6.7-23 3.7-6 8-4 2.9-5 2.3-16 3.5-17 2z"/>
<path fill="#ffaf00" d="M721.5 414.5l-23 0.8-24-2.5-24-6.2-12-4.5-10-4.6-7-4.3-7-5.5-11-12.2-5-7.8-4-8.2-2.9-8-1.9-8-0.9-10 1.3-9 3.4-7.2 6.5-6.8 12.6-8 21.2-10 18.1-7 18.1-5-19.6-5-22.3-9-20-10-7.5-5-4.4-4-5.2-8-1.5-5-0.6-6 1.5-14 4.7-14 5.4-10.1 6.5-8.9 7.5-7.7 9-6.8 10-5.5 14-5.6 14-4.3 15-3.2 17-2 16-0.3 16 1.3 16 3 8 2.2 5 2.7 4 3.5 5 6.7 15 2.1 15 3.8 14 5.2 13 6.5 11.6 7.4 10 8 9.2 9 8.2 10 7.1 11 5.5 11 4.3 12 2.8 12 1.3 13-0.3 13-1.9 13-3.3 12-5 12-6.7 12-8.1 11-9.3 10-8.4 7.4-9.1 6.6-9.9 6-10 4.9-11 4.3-11 3.3-11 2.4-12 1.6-7 8.7-4 2.8-4 1.7-13 3.2-14 2.1z"/>
<path fill="#ff9f00" d="M714.5 410.6l-22 0.3-23-2.8-22-5.9-12-4.5-8-3.9-7-4.5-6-4.9-6-6.1-5-6.5-4.5-7.3-3.5-7.6-2.5-7.4-1.8-8-0.4-10 2-9 4.2-7 6.5-6 12.9-8 20.8-10 15.2-6 17.6-5-16.1-4-22.3-9-21.4-11-7.4-5-4.4-4-3.2-4-2.6-5-1.9-10 1.4-13 4.7-14 5.5-10 6.2-8.3 8-7.9 9-6.4 10-5.1 15-5.5 14-3.8 14-2.6 16-1.4 15 0.1 16 1.7 15 3.1 7 2.3 4.7 2.8 4 4 3.3 5.3 16 2.6 14 3.7 14 5.5 13 6.9 10.5 7 9.5 8 8.8 9 7.7 10 6.1 10 5.1 11 3.7 11 2.5 12 1 12-0.6 13-2 12-3.6 12-5.3 12-6.6 11-7.6 10-9.2 9.5-8 6.8-9 6.4-19 10-20 6.8-21 3.7-2.9 4.8-3.1 3.4-4 2.9-4 1.8-15 3.7-16 2.3z"/>
<path fill="#ff8f00" d="M709.5 406.5l-21 0.2-21-2.6-22-5.9-11-4.1-7-3.5-7-4.5-6-5-10-11.6-7.5-14-2.5-7.5-1.5-7.5-0.2-10 2-8 4.4-7 6.4-6 12.6-8 20.1-10 14.7-6 17.1-5-9.2-2-9.3-3-20.8-9-20.2-11-6.8-5-4.2-4-2.9-4-2.4-5-1.7-10 1.4-12 4.5-13 5-9 7-9.1 7.3-6.9 8.7-6.1 10-4.8 14-5 14-3.6 14-2.3 15-1.1 15 0.3 15 1.8 14 3.1 7 2.3 4.1 2.4 3.9 3.8 4 6 14 2.2 14.5 4 13.5 5.4 12.2 6.6 10.2 7 9.3 8 8.3 8.8 6.9 9.2 6 10 4.9 11 3.4 11 2.1 11 0.7 12-0.7 12-2.2 12-3.5 11-5 11-6 10-7.7 10-8.9 9.1-15.4 11.9-17.6 9.5-19 6.6-20 3.6-6 8.2-6.3 4.1-16.7 4.5-18 2.5z"/>
<path fill="#ff8000" d="M705.5 402.5l-20 0.2-20-2.5-21-5.5-10-3.7-7-3.5-12-8.7-10-11.7-7.2-13.6-2.2-7-1.3-7 0-9 2.1-8 4.4-7 6.4-6 12.2-8 19.4-10 14.2-6 16.7-5-15.3-4-20.8-9-20-11-11.4-9-5.6-8-1.7-5-0.8-5 0.9-12 4.3-13 4.9-9 6.1-8 7.7-7.4 8-5.5 9-4.5 14-4.9 13-3.3 14-2.3 15-1 14 0.4 15 1.8 14 3.3 7 2.3 4 2.4 3.8 3.7 4 6 13.2 2.2 13.6 3.8 12.4 5 12 6.5 10 7 8.7 7.5 8.3 9 6.7 9 5.7 10 4.4 10 3 10 2 11 0.7 12-0.7 11-2.1 11-3.5 11-5.1 11-6.1 10-7.1 9-8.9 9-14.5 11-16.5 8.8-17 6-20 4.1-4.5 7.1-6.5 4.6-17 4.8-19 2.6z"/>
<path fill="#ff7000" d="M703.5 398.5l-19 0.3-20-2.3-20-5-16-6.5-11.9-8.5-9.1-10.3-7-12.7-3.6-13-0.3-9 1.9-8 4.1-7 7.1-7 13.5-9 17.1-9 13.7-6 16.2-5-14.8-4-20.2-9-19.3-11-11.1-9-5.6-8-2.5-9 0.4-11 3.6-12 4.7-9 5.8-8 6.3-6.3 8-5.9 9-4.7 11-3.9 13-3.5 13-2.3 15-1.3 14 0.2 14 1.5 14.6 3.2 8.4 2.6 5 2.8 4 4.1 3 5.5 13 2.2 12 3.4 11.1 4.4 11.4 6 8.9 6 8.6 7.1 7.7 7.9 7.1 9 5.5 9 4.6 10 3.4 10 2.2 11 0.8 11-0.5 11-1.9 11-3.4 11-4.4 10-6 10-6.9 9-8.2 8.4-14 10.9-16 8.7-16.9 6-18.1 3.6-4.7 7.4-6.3 4.5-17 4.9-18 2.6z"/>
<path fill="#ff6000" d="M702.5 394.5l-18 0.6-19-1.8-19-4.3-16-6-11.3-7.5-9.5-10-7-12-3.7-12-0.5-9 1.6-8 3.8-7 6.6-7 12.6-9 18.1-10 13.3-6 15.8-5-11.7-3-12.2-5-17.4-9-14.1-9-7.1-6-4.9-6-3.3-7-1.1-7 1-11 3.9-11 6.1-10.2 8-8.8 8-6.1 10-5.1 14-4.6 15-3.3 15-1.8 15-0.2 15 1.5 14 2.8 11 3.4 4 2 4.6 4.4 3.4 6 11 1.9 11 3 10.6 4.1 9.9 5 9.3 6 8.2 6.5 7.6 7.5 6.5 8 5.8 9 4.5 9 3.6 10 2.3 10 1 10-0.1 11-1.6 11-2.7 10-4.1 10-5.6 10-6.6 9-7.6 8.2-13.3 10.8-15.7 8.9-16 5.9-18 3.8-4.6 7.4-6.4 4.5-16 4.7-17 2.8z"/>
<path fill="#ff5000" d="M701.5 390.6l-18 0.8-18-1.5-19-4.1-15-5.4-11-7-8.7-8.9-6.8-11-3.7-11-0.8-9 1.7-9 3.7-7 6.5-7 12.2-9 17.5-10 12.9-6 15.3-5-11.3-3-11.8-5-15.2-8-12.6-8-7.6-6-5.5-6-4-7-1.7-7 0.4-10 2.9-10 5.3-10 7.3-8.8 8-6.6 8.2-4.6 10.8-4 14-3.5 15-2.2 15-0.7 15 1 14 2.4 12 3.5 7 2.9 4.8 4.6 3.2 5.8 19 4.2 18 7.5 9 5.4 8.2 6.1 7.5 7 7 8 5.5 8 4.8 9 3.6 9 2.7 10 1.3 10 0.1 11-1.3 11-2.6 10-4 10-4.9 9-6.4 9-7.3 8-12.2 10.2-15 8.8-16 6.1-17 3.6-4 6.8-6 4.7-15 4.8-17 3.1z"/>
<path fill="#ff4000" d="M691.5 387.5l-16 0-17-2-18-4.5-11-4.6-10-7.1-8.6-9.8-5.7-11-2.6-11 0.3-8 2.1-7 4.4-7 7.1-7 12.6-9 15.8-9 13.1-6 12.4-4-13.7-4-16.5-8-17.8-11-10.8-9-5.9-8-2.9-9 0.1-10 2.9-10 4.1-8 5.3-7 6.3-6 7-4.8 8-3.8 9-2.9 12-2.8 12-1.7 14-0.8 13 0.6 13 2 12 3 8.9 3.2 3.4 2 3.7 3.8 3 5.7 12 2.4 10 3.1 10 4.3 10 5.6 8 5.8 7.1 6.3 6.4 7 5.8 8 4.6 8 3.9 9 2.7 9 1.7 10 0.4 10-0.7 9-2.1 10-3 9-4.2 9-5.6 9-6.5 8-7.1 7-11.4 8.6-13 7-14 5.2-15 3.1-4 7.1-6 4.5-19 5.8-20 2.7z"/>
<path fill="#ff3000" d="M694.5 383.5l-16 0.7-16-1.3-17-3.5-13-4.5-10-6.3-8-8.1-6-9.7-3.4-10.3-0.5-9 2-8 4-7 6.5-7 11.8-9 14.9-9 14.6-7 12.1-4-8-2-11.9-5-14.6-8-12.1-8-8.4-7-5.3-6-3.4-6-2-7 0.1-9 2.4-9 4.7-9 6.5-8 7-5.8 8-4.6 9-3.2 13-3.1 14-2 14-0.5 14 1 14 2.6 11 3.3 7.7 3.3 4.3 4.1 3 6 18 4.3 16 7 8 4.9 7.4 5.7 7.3 7 5.9 7 5.3 8 4 8 3.1 8 2.2 9 1.2 9 0 10-1.3 10-2.3 9-3.5 9-4.9 9-5.8 8-6.6 7.3-11 9.2-13 7.7-14 5.5-16 3.9-3.4 6.4-5.6 4.4-16 5.4-18 3.2z"/>
<path fill="#ff2000" d="M686.5 380.5l-15 0-15-1.7-16-3.7-10-4.2-9-6.4-7-7.9-5.1-9.1-2.6-10 0.1-8 2.1-7 4.2-7 6.7-7 11.8-9 14.8-9 12.3-6 11.7-4-10.5-3-16.2-8-15.7-10-11.8-10-6.1-8-3-8-0.4-9 2.1-9 3.2-7 4.4-6.3 5.6-5.7 6.4-4.7 7-3.6 7-2.4 22-4.2 13-0.8 13 0.5 12 1.7 12 3 10 3.6 4 2.1 3.6 3.8 3.4 5.9 10 2 9 2.9 9 3.9 7.7 4.3 7.1 5 7 6 6.4 7 5.2 7 4.6 8 3.4 8 2.4 8 1.6 9 0.4 9-0.6 9-1.8 9-3 9-3.7 8-5 8-5.7 7.1-6.9 6.9-10.1 7.7-11.5 6.3-12.5 4.7-13 2.9-4.5 7.4-5.5 4-19 6.2-20 2.8z"/>
<path fill="#ff1000" d="M690.5 376.6l-14 0.7-15-0.9-16-2.9-11-3.6-9-5.4-7-6.6-5.7-8.4-3.3-9-0.8-8 1.5-8 4.1-8 6.2-7 11-9 13.9-9 13.7-7 11.4-4-7.5-2-11.2-5-12.1-7-10.2-7-7.4-6-5.8-6-4.1-6-2.5-6-1-7 0.9-8 2.9-7.9 4.4-7.1 5.6-6 7-5.2 8-3.9 9-2.6 20-3.2 20-0.1 19 3.1 18 6.1 5 3.9 4 7.2 13 2.9 12 4.7 11 6.2 10 7.9 8 8.6 6.5 9.4 4.8 10 3.2 10 1.5 9 0.4 9-0.8 9-2 9-3.3 9-4.1 8-5.5 8-6.1 7-10.6 9-11.7 7-12.4 5-13.9 3.3-4 7.1-5 3.9-16 5.6-17 3.2z"/>
<path fill="#ff0000" d="M685.5 373.5l-13 0.5-14-1.1-15-2.8-9-3.2-8-4.8-7-6.7-5.1-7.9-3.1-9-0.4-8 1.6-7 3.7-7 5.9-7 10.6-9 13.5-9 13.3-7 11.1-4-7.3-2-10.9-5-11.8-7-9.9-7-8.1-7-5.3-6-3.7-6-2.1-6-0.7-7 1.4-8 3.3-7.6 5-6.9 6-5.6 7-4.3 8-3.1 10-2.3 19-2.1 18 0.7 17 3.2 16.3 6 4.7 4 3 6.2 14 3.6 11 4.6 11 6.5 9 7.5 7.7 8.6 5.8 9 4.6 10 3 11 0.9 8 0 9-1.2 9-2.2 8-3.3 8-4.3 7.8-5.3 7.2-5.7 6.1-9.6 7.9-11.4 6.6-12 4.7-12 2.7-3 6.5-5 4.1-17 6.1-19 3.3z"/>
<path fill="#ef0000" d="M680.5 370.5l-13 0.1-13-1.3-12-2.4-8.8-3.4-7.2-4.7-6.2-6.3-4.8-8-2.3-8 0-8 2.1-7 4.1-7 6.3-7 10.9-9 12-8 11.3-6 10.7-4-7.1-2-10.6-5-11.4-7-10.7-8-7.6-7-4.9-6-3.3-6-1.7-6-0.2-7 1.8-8 3.6-7 5.9-7 6.1-4.7 7-3.5 7-2.2 12-2.2 13-1.1 12 0.3 12 1.5 11 2.6 16.1 6.3 3.9 3.9 3 5.9 15 3.9 13.2 6.3 6.8 4.6 6.5 5.4 10.2 12 4.1 7 3.1 7 2.3 7 1.5 8 0.5 8-0.4 8-1.5 8-2.6 8-3.1 7-4.6 7.5-5.2 6.5-6 6-8.8 6.7-9.4 5.3-10.6 4.1-11 2.6-4 7.3-6 4.1-18 6.1-19 2.8z"/>
<path fill="#df0000" d="M674.5 367.5l-13-0.4-13-1.7-9-2.3-7-3.3-7-5.2-5.1-6.1-3.6-7-1.7-8 0.5-7 2.5-7 3.8-6 6.3-7 9.4-8 11.7-8 10.9-6 10.5-4-9.4-3-12.8-7-12.8-9-10.9-10-5.9-8-2.9-7-0.9-8 1.6-8 2.8-6 3.6-5 4.4-4.3 6-4.1 6-2.7 6-1.7 20-2.6 11 0 11 1 10 1.9 10 3 12 5.6 3 3.5 2 4.9 17 5.1 14 7.5 11.6 9.9 5 6 4.4 6.7 5.8 13.3 1.7 7 0.9 8-0.1 8-0.9 7-2.1 8-2.8 7-8 13-10.9 11-7.6 5.3-8.8 4.7-8.2 3.1-11 2.9-1.5 4-2.5 3.5-3 2.2-5 2.3-18 5.7-10 1.6-10 0.7z"/>
<path fill="#cf0000" d="M683.5 363.6l-11 0.8-12-0.4-14-1.9-8-2.3-7-3.7-6-5.2-4.7-6.4-2.8-7-0.7-8 1.4-7 3.5-7 5.5-7 8.5-8 12.2-9 12.2-7 10.1-4-6.7-2-8.2-4-17.8-12-12.5-12-4.3-6-2.7-6-1.2-6 0.2-6 1.7-6 3.2-6 4.1-5 5-4.1 6-3.3 7-2.3 19-2.5 18 0.4 17 3.2 16 6.1 5 4 3 6.4 10 2.4 10 4 9 5.3 8 6.4 6.4 7 4.9 7 4 8 3 9 1.3 7 0.4 8-0.6 8-1.5 7-2.4 7-3.4 7-4.5 7-5.1 6-7.9 7-9.6 6.2-11 4.7-11 2.7-3 6.4-4 3.5-15 6-17 3.6z"/>
<path fill="#bf0000" d="M681.5 360.6l-11 0.7-11-0.3-12-1.5-8-2.2-7-3.7-5.8-5.1-4.2-6-2.6-7-0.5-7 1.6-7 3.5-7 5.5-7 9.7-9 10.8-8 10.4-6 9.8-4-6.5-2-8-4-17.2-12-12-12-4-6-2.2-5-1.3-6 0.2-6 1.6-6 2.7-5 4.2-5 5-4 5.7-3 6.6-2.1 18-2.1 18 0.6 16 3.3 15.7 6.3 4.3 3.8 3 6.1 10 2.5 9 3.7 9 5.5 7.6 6.4 6.2 7 4.5 7 3.7 8 2.4 8 1.1 7 0.2 8-2.5 14-5.7 13-4.1 6-5.2 6-8.2 6.9-8.3 5.1-9.7 4.1-10 2.5-3.2 6.4-4.8 3.8-15 6-16 3.3z"/>
<path fill="#af0000" d="M680.5 357.5l-10 0.8-11-0.2-12-1.5-7-1.9-6.3-3.2-5.7-4.9-4-5.6-2.4-6.5-0.5-7 1.6-7 3.6-7 5.5-7 8.3-8 10.5-8 10.1-6 9.6-4-6.4-2-7.7-4-15.5-11-11.9-12-4-6-2.3-5-1.3-6 0-5 1.4-6 2.6-5 3.8-4.7 5-4 5-2.6 6-1.9 17-2 17 0.6 16 3.3 15 6 4.4 3.3 3.6 6.8 9 2.3 9 3.7 8 4.9 7 5.8 5.9 6.5 4.6 7 3.3 7 2.5 8 1.1 7 0.3 7-0.7 7-1.6 7-5.8 13-8.6 11-7 6.1-9 5.6-9 3.7-9.6 2.6-2.6 6-4.8 3.8-14 5.7-16 3.5z"/>
<path fill="#9f0000" d="M679.5 354.5l-10 0.8-10-0.1-11-1.2-7-1.8-6-3.1-5-4.1-4-5.5-2.2-6-0.6-6 1.3-7 3.4-7 5.2-7 8-8 10.1-8 9.8-6 9.3-4-6.2-2-5.8-3-15.5-11-11.8-12-4-6-2.3-5-1.4-6 0.1-5 1.1-5 2.4-5 3.1-4 5-4.1 5-2.7 6-1.8 17-1.8 16 0.9 15 3.3 14 5.7 4.5 3.5 2.5 6 10 2.9 8 3.4 7.6 4.7 7.1 6 5.2 6 4.5 7 3.2 7 2 7 1.2 13-2.1 13-5.1 12-8.4 11-6.9 6-8 5-7.3 3.2-11 3.3-2.2 5.5-4.8 4-14 5.7-15 3.3z"/>
<path fill="#8f0000" d="M678.5 351.6l-9 0.8-10-0.1-10-0.9-7-1.8-6-3-4.7-4.1-3.3-4.7-2-5.3-0.6-6 1.3-7 3.3-7 5.2-7 7.9-8 8.7-7 9.5-6 9-4-5.9-2-5.7-3-15-11-10.5-11-4-6-2.3-5-1.3-5-0.2-5 1-5 2.3-5 3.3-4.2 4-3.4 5-2.6 5-1.6 16-1.7 16 0.9 15 3.4 13 5.5 4.7 3.7 2.3 6 8 2 8 3.2 7 4.1 7 5.7 5.4 6 4 6 3.4 7 2.1 7 1.3 13-1.9 12-5.2 12-7.6 10-6.5 5.8-7 4.5-8 3.6-10 2.9-2.7 6.2-4.3 3.2-13 5.5-15 3.4z"/>
<path fill="#800000" d="M668.5 349.5l-18-0.7-10-3-4-2.6-4-4-2.8-4.7-1.4-5-0.1-6 1.9-7 3.2-6 5.3-7 7-7 8.6-7 7.9-5 8.8-4-5.8-2-5.6-3-14.5-11-10-11-3.8-6-2-5-1.2-6 0.3-5 1.6-5 2.4-4 3.9-4 4.3-2.8 10-3 15-0.8 15 1.4 14 3.7 12 5.6 3 2.9 2 5.2 10 3.1 7 3.2 7 4.5 6.6 6 4.7 6 4 7 2.6 7 1.5 7 0 12-3 12-6.1 11-8.3 8.9-5.6 4.1-6.4 3.6-7 2.7-7 1.7-1.1 4-1.9 2.8-8 4.7-15 5.2-17 2.3z"/>
</g>
<g clip-path="url(#cp1)">
<rect x="118" y="622" width="1111" height="424" fill="#00008f"/>
<path fill="#00009f" d="M754.5 1045.5l-636 0 0-423 636.4 0 15.6 36.7 11.8 36.3 5.2 20.3 5 23.9 7.5 43.8 5.1 25 1.4 9 0.1 8 1.2 2 6.7 5 0.1 2-1.1 2-5.8 4-1.1 2 0 7-1.5 10-5.1 25-7.5 43.7-5 23.9-6 23.2-6 19.3-7 19.3-8 19.3-6 12.3zM792.2 840.5l6.3-1 3.4-2 1.2-4-1.6-3.5-3-1.6-6-1-22-0.4-26 1.5-55.1 5 1.1 1 62 5.4 23 1.1 16.7-0.5z"/>
<path fill="#0000af" d="M752.5 1045.5l-634 0 0-423 634.7 0 8.3 17.9 8 19.5 12 35.9 9 36.9 9.5 52.8 4.5 21.2 1.8 11.8-0.4 8 1.6 1.6 6 3.4 1 1 0.1 2-1.1 2-5.6 3-2 2 0.4 8-1.5 10-5 24-7.3 41.5-5.6 26.5-6.4 24-6 18.8-7 18.8-10 23.3-4.4 9.1-0.6 0zM797.3 840.5l4.2-1 1.5-1 1-4-0.5-4-1-1.5-2-0.9-9-1.3-15-0.3-20 0.9-68 6.1 1.1 1 67.9 6 23 0.9 16.8-0.9z"/>
<path fill="#0000bf" d="M750.5 1045.5l-632 0 0-423 632.9 0 10.1 21.3 9 22 7.5 21.7 6.5 22.5 6 25.9 8.7 47.6 5.3 24.9 1.3 10.1-1.3 6.9-1 1.4-1 0.2-21-0.9-25 1.1-68.7 6.3 1.1 1 61.6 5.8 29 1.5 23-0.9 1 0.2 1 1.4 1.3 7-1.3 10-5.3 25-8.7 47.5-6.9 29.5-7.1 23.6-8 22.2-12 27.7-5.1 10.5-0.9 0zM808.5 838.6l-3 0-0.6-1.1 0-7 0.6-1.2 1-0.3 5 1.3 3 2.3 0 2.8-2 1.6-4 1.6z"/>
<path fill="#0000cf" d="M749.5 1045.5l-631 0 0-423 631.1 0 9.9 20.2 9 21.1 8 22.1 6.2 20.6 7.1 29 9.2 49 5 23 1.4 10-0.9 4.9-2 3-2 0.5-21-0.1-20 0.9-72.4 6.8 1.1 1 67.3 6.4 23 1.2 22-0.1 2 0.5 2 3 0.9 5-1.4 10-5 23-9.3 49-7 29-6.2 20.5-8 22.1-9 21.1-10 20.3zM810.5 837.7l-3 0.3-1.6-1.5-0.1-5 1.7-1.6 4 0.7 3 2 0 2.7-4 2.4z"/>
<path fill="#0000df" d="M747.5 1045.5l-629 0 0-423 629.2 0 9.8 19.3 9 20.3 8 21 7 22.1 8 32.1 9.3 48.2 4.7 20.9 1.4 10.1-0.4 3.4-2 4-3 1.2-42 1.5-71.1 6.9 1.1 1 65 6.5 22 1.3 25 0.5 3 1.2 2 4 0.4 3.5-1.4 10-4.7 21-9.3 48.1-8 32.1-7 22.1-8 21-9 20.3-10 19.4zM809.5 837.5l-2-0.4-1-1.6 0.3-4 1.7-1.1 3 0.4 3 1.8 0 2.7-2 1.4-3 0.8z"/>
<path fill="#0000ef" d="M745.5 1045.5l-627 0 0-423 627.3 0 10.7 20.6 9 19.8 8 20.5 7 21.4 8 31 14.7 70.7 1.3 9-0.6 4-2.4 3.9-4 1.2-40 1.7-71.7 7.2 1.1 1 63.6 6.5 22 1.6 26 0.8 3 1.1 2.4 4 0.5 4-1.3 9-14.6 70.6-8 31-7 21.4-8 20.5-10 21.9-10 18.6zM812.5 836.6l-3 0.5-1.6-0.6-0.8-2 0.7-3 2.7-0.7 4 1.9 0 2.5-2 1.4z"/>
<path fill="#0000ff" d="M743.5 1045.5l-625 0 0-423 625.3 0 10.7 19.8 10 21.4 8 20 7 20.8 6 21.6 5 22 7.4 37.4 5.1 22 0.9 8-0.4 3-2.3 4-4.7 1.5-41 2.2-70.2 7.3 1 1 62.2 6.6 49 2.9 3 1 1.7 1.5 1.3 2.8 0.4 3.2-1.1 9-4.9 21-9.4 46.6-10 37.5-7 20.3-8 19.6-10 21-10 18zM811.5 836.7l-2 0-1.6-1.2 0-3 0.8-1 2.8-0.3 3 1.5 0 2.5-3 1.5z"/>
<path fill="#0010ff" d="M741.5 1045.5l-623 0 0-423 623.2 0 10.8 19.3 10 20.5 9 21.7 7 20.2 6 21 5 21.1 7.7 38.2 5.3 22.3 0.9 7.7-0.3 3-2.6 4.4-5 1.6-41 2.5-69.7 7.5 1 1 60.7 6.6 50 3.5 3 0.8 2 1.6 1.9 5.5-0.9 8.6-14 65.1-5 20.3-5.6 19-7.4 21-9 21.3-10 20.2-10 17.5zM811.5 836.5l-2-0.2-1-1 0-2.8 1.3-1 2.7 0.1 2 1.1 0 2.5-3 1.3z"/>
<path fill="#0020ff" d="M738.5 1045.5l-620 0 0-423 621 0 12 20.7 10 20 9 21.2 7 19.7 9 32 15.1 68.4 1 6-0.3 7-2.8 4-5 1.5-42 2.9-68.2 7.6 1.1 1 59.1 6.7 51 3.9 3 0.8 2.3 1.6 1.5 3 0.5 3-0.8 8-14.5 66.1-5 19.6-6 19.7-8 21.7-10 22.5-13 24.4-6 10-1 0zM813.5 835.8l-2 0.5-2-0.5-0.7-1.3 0.3-2 2.4-0.9 3 1.2 0 2.3-1 0.7z"/>
<path fill="#0030ff" d="M736.5 1045.5l-618 0 0-423 618.8 0 12.2 20.3 10 19.2 9 20.3 8 21.7 6 19.6 6 24 13.1 58.9 0.6 5-0.4 5-2.3 4-5.9 2-42.1 3.2-67.6 7.8 1 1 57.6 6.7 52 4.3 3.5 1 2.5 2 1.3 3 0.4 5-0.7 5.5-15 66.9-5 18.9-6 19.1-8 21.1-10 22-12 22.1-8.2 13.4-0.8 0zM813.5 835.7l-2 0.4-1.7-0.6-0.6-1 0.5-2 1.8-0.7 3 1 0 2.3-1 0.6z"/>
<path fill="#0040ff" d="M734.5 1045.5l-616 0 0-423 616.5 0 12.5 20 11 20.6 9 19.8 8.5 22.6 9.5 32.3 15.2 66.7 1 6-0.7 6-2.5 3.6-6 2-39 3.2-70.1 8.2 1.1 1 61 7.3 49 4.4 3.6 1.3 2 2 1.1 3 0.5 5-16.2 72.6-5 18.3-6 18.4-8 20.6-10 21.4-12 21.6-10 15.1zM813.5 835.7l-3.1-0.2-0.7-1 0.5-2 2.3-0.5 2 0.8 0 2.3-1 0.6z"/>
<path fill="#0050ff" d="M732.5 1045.5l-614 0 0-423 614.1 0 12.9 19.9 11 19.8 10 21.2 8 20.5 7 21.9 6 23.2 13 56.5 0.6 5-0.8 5-2.4 4-5.7 2-40.7 3.7-68.4 8.3 1 1 60.4 7.4 48.3 4.6 3.7 1.1 2.5 1.9 1.4 3 0.7 5-0.6 5-15 64.7-6 21.6-6 18-8 20-10 20.9-11 19.4-12 18.4zM813.5 835.6l-2 0.1-1-0.6-0.4-1.6 0.7-1 1.7-0.4 2 0.8 0 2.1-1 0.6z"/>
<path fill="#0060ff" d="M729.5 1045.5l-611 0 0-423 611.7 0 13.3 19.9 12 20.9 10 20.7 9 22.8 10 32.9 15 63.8 1 6-1.1 6-0.9 2.1-2 1.8-6 1.8-40 3.8-67.8 8.5 1.1 1 58.7 7.4 50 5.2 4 1.4 2.1 2 1.9 8-16 69.7-6 21-7 20.1-9 21.2-10 19.7-12 20-10.4 15.3-0.6 0zM812.5 835.7l-2-1.2 0-1.1 2-1.1 2 0.6 0 2.1-2 0.7z"/>
<path fill="#0070ff" d="M726.5 1045.5l-608 0 0-423 609.1 0 13.9 20.1 11 18.2 10 19.5 9 21.2 7 20 6.5 23 14.4 61 0.1 6-2.2 6-2.8 1.9-3.7 1.1-42.3 4.5-66.1 8.5 1 1 57.1 7.4 50.8 5.6 3.3 1 2.8 2 2.4 8-0.6 5-15.7 65.7-6 20.3-7 19.5-9 20.7-11 20.9-14 22.2-9 12.7-1 0zM812.5 835.5l-1.7-1 0-1 1.7-1.1 2 0.5 0 2.1-2 0.5z"/>
<path fill="#0080ff" d="M724.5 1045.5l-606 0 0-423 606.3 0 14.7 20.3 11 17.5 11 20.8 9 20.6 7.4 20.8 6.6 22.8 14 58.6 0.4 6.6-1.6 5-1.4 2-6.4 2.6-43 4.8-64.4 8.6 1 1 64.4 8.6 43 4.9 4.1 1.5 2.2 2 2.3 8-15.6 66.9-6.6 22.1-7.4 20.2-9 20.1-11 20.5-12 18.7-13 17.5zM814.5 834.9l-2 0.4-1.3-0.8-0.1-1 1.4-1 2 0.5 0 1.9z"/>
<path fill="#008fff" d="M721.5 1045.5l-603 0 0-423 603.5 0 15.5 20.7 12 18.5 11 20.3 9 20.1 8 21.9 6.3 21.5 13.8 57 0.7 5-0.3 3-2.6 6-2.9 2-4 1.1-106.7 13.9 1 1 106.7 14 3.1 1 2.9 2 2.3 5 0.5 4-15.8 66.7-6.5 21.3-7.5 19.8-9 19.7-11 19.9-13 19.6-14 18zM814.5 834.9l-2 0.3-1-0.7-0.1-1 1.1-0.8 2 0.3 0 1.9z"/>
<path fill="#009fff" d="M718.5 1045.5l-591.6 0-8.4-7.9 0-407.3 8.3-7.8 592.1 0 15.6 19.8 13 19.2 11 19.4 10 21.5 8 21.4 7 23.4 13.2 54.3 0.6 8-0.9 3-2.6 4-3.3 1.8-4 1-105 14.2 1 1 105 14.3 6.4 2.7 2.9 5 0.7 4-1 6.6-14 57.3-7 22.7-8 20.8-10 21.1-11 19-13 19-15 18.5zM814.5 834.9l-2 0.1-0.8-1.5 0.8-0.6 2 0.1 0 1.9z"/>
<path fill="#00afff" d="M715.5 1045.5l-558.6 0-20.4-18.7-18-19.8 0-346.1 18-19.8 20.3-18.6 558.9 0 16.8 20.5 13 18.3 12 20.5 10 21 8 20.8 7.6 24.9 12.6 52 0.8 5-0.2 4-1 3-2.8 3.5-6 2.6-105.2 14.9 1 1 105.1 15 4.7 2 2.6 3 1.4 3 0.4 4-1 6.8-14 56.8-7 22-8 20.3-10 20.5-12 20.2-13 18.1-16 19.3zM814.5 834.8l-2 0-0.5-1.3 2.5-0.4 0 1.7z"/>
<path fill="#00bfff" d="M711.5 1045.5l-525.1 0-20-17-17.8-18-15.9-19-14.2-20.4 0-274.3 14.1-20.3 15.9-19 17.8-18 20-17 525.9 0 17.3 20 14 18.9 12 19.6 10 20 9 22.5 7 22.1 13 53 1 9.9-1.4 4-2.9 3-3.7 2-3.9 1-102.5 15 0.9 1 102.5 15.1 5.5 1.9 3.4 3 1.7 3 0.5 4-1.1 8-14 56.3-7 21.4-9 21.9-11 21.4-12 18.9-16 20.9-12 13.7-2 1.5zM814.5 834.8l-2-0.2-0.3-1.1 2.3-0.4 0 1.7z"/>
<path fill="#00cfff" d="M707.5 1045.5l-491.9 0-16.1-12.4-15.3-13.6-13.8-14-12.9-15-11.8-16-10.1-16-9.1-17-8-18 0-179.1 7.9-17.9 9.7-18 16-24 18.4-22.2 21.2-20.8 23.7-19 493.1 0 18 19.7 15 19.4 12 18.7 11 21.3 9 21.9 8 24.9 11.9 49.1 1 11-0.9 3-2 2.3-4.2 2.7-4.8 1.4-101.7 15.6 1 1 102.7 15.9 4 1.6 4 3 1.4 2.5 0.6 4-2 13.1-12 48.3-8 24.2-9 21.3-11 20.9-13 19.8-18 22.4-13 13.9-1 0.1zM814.5 834.8l-2-0.3 0-1 2-0.4 0 1.7z"/>
<path fill="#00dfff" d="M703.5 1045.5l-458.9 0-20.8-15-19.7-17-17.4-18-15.3-19-13.2-20-11.3-21-9.2-22-7-23-4.5-23-2.3-24 0.3-24 2.6-23 4.9-23 7.5-23 9.6-22 11.7-21 16.9-24 19.5-22 22.6-20.7 24.9-18.3 460 0 18.1 18.6 16 19.4 13 19.3 11 20.3 10 23.4 8 24.3 11 44.6 1.5 8.1 0.4 7-0.9 3.4-2.1 2.6-4.9 2.6-4.7 1.4-100.2 16 0.9 1 99.8 16 4.2 1.3 5 2.7 2.2 3 0.7 4-1.9 14-11 44.6-8 24.3-10 23.4-12 21.9-13 19-19 22.5-13 13.2-2 1.1zM814.5 834.7l-1.7-0.2-0.1-1 1.8-0.3 0 1.5z"/>
<path fill="#00efff" d="M699.5 1045.5l-425.9 0-11.2-7-20.8-15-18.5-16-17.3-18-15.2-19-13.1-20-10.9-21-8.9-22-6.3-22-4.2-23-1.8-23 0.6-23 3.1-23 5.4-23 7.7-22 9.7-21 12.4-21 17.9-24 20.8-22 23.7-20 26.7-18 426.5 0 18.6 17.8 18 20.7 13 18.5 12 21.4 10 22.8 9 27 9.9 40.8 1.6 10 0.2 6-0.9 3-2.6 3-10.2 3.7-77.1 13.3-21 3 0.9 1 20.7 3 77.5 13.5 7 2.2 3.5 2.3 1.8 3 0.5 4-2.8 18.4-10 39.7-9 26.2-10 22.2-12 21-13 18.1-18 20.5-18 16.9zM814.5 834.7l-1.5-0.2-0.1-1 1.6-0.3 0 1.5z"/>
<path fill="#00ffff" d="M694.5 1045.5l-391.6 0-15.8-9-14.6-9.6-20-15.3-17.4-16.1-15.6-17.3-14-18.7-12.2-20-9.6-20-7.6-21-5.6-22-3.3-22-1-22 1.3-22 3.6-22 5.9-22 8-21 9.9-20 12.6-20 8.9-12 10.1-12 11-11.5 12-11.1 12-9.8 13.1-9.6 13.9-8.9 14.2-8.1 392.1 0 18.7 16.4 19 20.4 14 18.5 13 21.9 11 24.2 9 26.3 9 36.3 1.6 9 0.9 11-0.6 3-2.2 3-3.4 2-7.3 2.2-76.7 13.8-20.6 3 0.9 1 26 4 72.4 13.2 5.5 1.8 3.3 2 2.1 3 0.6 4-2.5 19.1-10 39.4-9 25.5-11 23.6-12 20-14 18.5-19 20.4-19 16.5zM814.5 834.7l-1.3-0.2-0.2-1 1.5-0.3 0 1.5z"/>
<path fill="#10ffef" d="M688.5 1045.5l-355.5 0-26.5-13.9-24.2-16.1-18.4-15-16.3-16-14.5-17-13.2-19-10.7-19-8.8-20-6.8-21-4.5-21-2.4-21-0.1-22 2-21 4.2-21 6.4-21 8.5-20 10.3-19 12.8-19 9.6-12 10.9-12 11.4-11 12.9-11 13.4-10 13.8-9 14.7-8.4 15.2-7.6 356.1 0 5.7 4.1 19 16.1 19 19.8 14 18.2 12 19.9 12 25.9 9 26.7 8 32.6 1.9 13.7 0.2 7-1.1 3.7-2.2 2.3-8.8 3.5-71.8 13.5-25.6 4 0.8 1 25.4 4 73.4 14 5.2 2 2.7 2 1.7 3 0.4 4-1.2 13-2 10.5-9 34.4-10 27.1-11 22.5-13 20.5-15 18.5-20 19.8-20 15.7zM814.5 834.6l-1.1-0.1-0.2-1 1.3-0.2 0 1.3z"/>
<path fill="#20ffdf" d="M680.5 1045.5l-316 0-20-8.6-19-9.9-18-11.2-16.6-12.3-17-15-15.2-16-13.3-17-11.5-18-9.8-19-7.5-19-5.6-20-3.7-21-1.5-20 0.6-21 2.9-21 4.8-20 7-20 8.9-19 10.6-18 13.1-18 11.2-13 11.6-11.6 13-11.4 13.1-10 14.9-9.9 15-8.6 15.1-7.5 16.7-7 317 0 11.2 7.1 11 8.2 18 16.2 16 17.6 13 18.1 11 19.4 10 22.9 9 27.8 6.2 26.7 1.5 14 0 6-1 3-1.7 2.1-3 1.9-6 2-71.5 14-25.1 4 0.8 1 24.8 4 72 14.2 5.2 1.8 3.9 3 1.4 3 0.3 5-2.8 22-9 34.1-10 26.5-13 25.3-15 21.7-17 18.8-21 18.5-12 8.6-8 4.5zM814.5 834.6l-0.9-0.1-0.2-1 1.1-0.2 0 1.3z"/>
<path fill="#30ffcf" d="M670.5 1045.5l-271.3 0-28.3-10-26.4-12.6-24-14.8-22.4-17.6-15.5-15-13.8-16-12-17-10.3-18-8.5-19-6.3-19-4.3-19-2.5-20-0.3-20 1.7-20 3.8-20 5.6-19 7.8-19 9.5-18 11.5-17.4 13.4-16.6 11.6-12.1 13.1-11.9 14.1-11 14.9-10 15.7-9 16.4-8 17.1-7 18.1-6 272.5 0 12.1 6.1 10 6.1 10 7.2 11 9.1 16 15.6 12 14.4 12 18 10 19.1 9 22.2 8 26.6 4.1 19.6 1.2 14-0.2 6-1.1 3-2 2.1-3.5 1.9-6.4 2-69.4 14-24.5 4 0.8 1 19 3 65.5 13 15.2 4 4.6 3 1.9 4 0.2 5-1.2 14-2.2 12.1-4 15.9-9 27.2-11 24.2-13 21.5-16 19.9-20 19.1-20 14.7-10 5.8-10 4.6zM814.5 834.5l-0.9-1 0.9-0.2 0 1.2z"/>
<path fill="#40ffbf" d="M658.5 1045.5l-216.2 0-5.4-1-19.4-4.5-18-5.5-18-6.9-17.3-8.1-16.1-9-15.6-10.3-15-11.7-13.2-12-13.9-15-12.2-16-10.7-17-8.9-18-6.8-18-5.1-19-3.1-19-1.1-19 0.9-20 2.8-19 4.9-19 6.6-18 8.7-18 10.3-17 12-16 13.5-15 14-13 15.2-12 16.1-10.7 17-9.6 18-8.3 19-7.2 20-5.8 20.2-4.4 217.8 0 20 9 16 8.9 16 11.7 15 13.6 13 14.4 11 15.2 10 17.4 8 17.3 8 22.4 6 22.7 2.4 17.4 0.5 9-0.4 5-1.5 3-2.2 2-4 2-6.7 2-67.2 14-23.9 4 1 1 18.4 3 67.9 14 13 4 3.8 3 1.7 5-0.3 10-1.5 14-7 28-10 27.1-12 23.5-14 20.5-8 9.4-9 9.1-10 9-11 8.6-19 11.7-15 7.2-10 3.9zM814.5 834.5l-0.7-1 0.7-0.1 0 1.1z"/>
<path fill="#50ffaf" d="M643.5 1045.5l-129.5 0-3.5-3.2-20-0.1-20-1.5-19-2.7-19-4.1-18.4-5.4-17.6-6.5-17-7.8-15.9-8.7-15.1-9.8-14-10.6-13-11.6-12.4-13-12.1-15-10.5-16-9-17-7.3-18-5.3-18-3.5-19-1.4-18 0.4-19 2.4-19 4.2-18 6.1-18 7.8-17 9.2-16 11.4-16 13-15 14.5-14 17.6-14 19.9-12.8 21-10.8 22-8.9 21-6.4 22-4.8 29-3.6 29-0.6 3.4-3.1 130.9 0 26.7 10.1 25 12.8 10 6.7 10 7.9 10 9 9 9.4 11 13.9 9 14 9 17.4 7 16.9 6.1 18.9 4.5 19 1.7 19-0.7 9-1.7 3-2.5 2-11.3 4-64.9 14-23.3 4 0.8 1 18.1 3 65.5 14 9.7 2.6 5.5 2.4 3.8 4 1.1 7-1.2 18-3.2 15.9-8 25.9-11 25.2-13 21.7-8 10.6-8 9.1-18 16.5-19 13.3-26 12.9-15 5.8-10 3.1zM814.5 834.3l-0.5-0.8 0.5-0.1 0 0.9z"/>
<path fill="#60ff9f" d="M623.5 1045.5l-94.2 0-6.8-4.5-6-5.8-24-0.6-23-2.4-23-4.5-22-6.3-17-6.3-16.4-7.6-15.6-8.6-15-9.9-13.5-10.5-13.1-12-12.1-13-10.1-13-10.4-16-8.3-16-6.7-17-5.2-18-3.2-18-1.2-18 0.5-18 2.4-18 4.4-18 6-17 7.9-17 9.5-16 11-15 12.4-14 13.8-13 15.9-12.6 21-13.4 22.1-11 23.9-9 25-6.7 16-3 16-1.9 32-1.1 6-5.9 6.6-4.4 95.1 0 19.3 5 19 6.4 19 8.1 17 8.9 13 8.8 14 11.6 11 11.3 10 12.6 8 12.2 8 14.9 7 16 5.3 15.2 4.2 15 2.3 12 1 18-1.1 8-2.1 3-2.9 2-11.7 4-61 13.7-24.2 4.3 0.8 1 24.4 4.4 60.4 13.6 9.4 3 4.9 3 2 3 1 5-0.8 20-2.9 15-6 19.9-10 24.2-6 11.5-7 11.3-14 18.1-17 16.2-19 13.7-23 11.8-26 10.1-27 7.2zM814.5 834l-0.3-0.5 0.3 0.5z"/>
<path fill="#70ff8f" d="M582.5 1044.5l-19-0.1-16-1.4-7-1.8-7-3.2-5.2-3.5-6.8-6.4-19-0.4-19-1.7-19-3.2-18-4.4-19-6.3-18-7.5-17-8.9-16.1-10.2-17.9-13.9-15.8-15.1-14.2-17-11.8-18-9.6-19-7-19-4.7-20-2.4-21 0.2-21 2.9-21 5.3-20 7.9-20 10.3-19 12.7-18 14.2-16 16.5-15 15.5-11.6 17-10.4 18-9 19-7.5 21.6-6.5 22.4-4.6 22-2.5 23-0.6 8-7.3 9-5.1 10-2.7 13-1.1 20-0.2 21 1.4 21 3.2 20 4.7 20 6.5 20 8.4 18 9.4 14 9.4 13 11 11 11.7 11 14.8 9 15.2 8 17.2 7.2 20.2 4.4 18 1.5 15 0.1 10-1.2 6-2.9 4-5.1 2.8-14 4.2-42.7 10-35.7 7 0.8 1 30.6 5.9 54.9 13.1 9.9 4 2.4 2 1.8 2.8 1.3 9.2-1.1 18-2.2 11.6-4 14.1-6 16.4-7 15.2-8 14.1-9 13-13 14.7-16 13.6-15 9.9-22 10.9-23 8.8-23 6.4-24 4.3-25 2z"/>
<path fill="#80ff80" d="M596.5 1037.5l-23 0.4-21-1.6-7-1.8-7-3.2-6-4.4-5-5.4-18-0.6-16-1.5-17-2.7-16-3.7-17.9-5.5-17.1-6.8-16-7.8-15-9-17.2-12.4-15.7-14-13.6-15-12.3-17-10.2-18-7.5-18-5.6-19-3.2-20-0.8-21 1.8-20 4.3-20 6.5-19 8.7-18 11.3-18 13.8-17 15.3-15 14.9-12 16.5-10.9 17-9.2 18-7.8 21.8-7.1 22.2-5 23-3.1 24-1 5.6-5.9 6.4-4.4 8-3.3 9-1.8 20-1.1 20 0.5 20 2.1 20 3.7 20 5.5 19 7 19 8.8 16 9.1 13 9.7 11 10.2 10 11.8 9 13.1 9 16.6 7 16.5 6 18.8 2.9 15.2 0.8 14-0.5 9-1.9 5-4.5 4-10.3 4-19.4 5-39.1 9.4-24.5 4.6 0.8 1 30.2 6 52.3 13 10.2 4 2.7 2 2.2 3 1.7 7-0.1 13-1.4 13-3.1 12.8-5 15.1-6 14.4-7 13.6-8 12.7-12 15.1-13 12.4-16 11.6-19 10.2-22 9.3-23 7.3-23 4.8-24 2.7z"/>
<path fill="#8fff70" d="M594.5 1031.5l-20-0.2-18.6-1.8-7.4-2.2-6-3.1-5-3.8-5-5.5-19-0.8-16-1.8-17-3-16-4.1-17-5.7-17-7.3-16-8.5-14.3-9.2-16.6-13-14.4-14-12.7-15.3-10.9-16.7-9.1-18-6.5-18-4.4-19-2.1-19 0.3-20 2.7-19 5-19 7.2-18 9.2-17 11.8-17 13.2-15 15.6-14.2 14.4-10.8 15.6-9.6 16.7-8.4 17.3-6.9 19-5.8 20-4.3 19-2.4 22-1.2 7.4-7.4 8.9-5 9.7-2.6 16-1.3 19-0.3 19 1.3 19 2.9 19 4.4 19 6.1 18 7.4 19 9.8 13 8.4 11 9.1 10 10.6 10 13.3 8 13.4 8 17 6 16.8 3.6 14.7 1.4 14 0.1 10-1.1 7-3 5-5 3.4-13.1 4.6-34.5 9-25.4 6-16.6 3 0.7 1 29.5 6 50.1 13 11.3 4.6 3.1 2.4 2.1 3 1.8 7.8 0 12.2-1.4 13-3.4 14-5.2 14.9-6 13.6-8 14.6-8 11.8-12 13.9-14 12-15 9.6-21 10.4-22 8.4-22 6.1-22 3.9-23 1.8z"/>
<path fill="#9fff60" d="M613.5 1024.5l-27 0.9-26-2.3-7-2-6-3.1-5.7-4.5-4.3-5-24-1.5-24-3.8-23-6.3-21.5-8.4-14-7-13.3-8-12.7-9-11.9-10-11.1-11-9.4-11-8.6-12-7.6-13-7.1-15-5.2-15-3.6-15-2.2-16-0.5-16 1.2-16 2.9-16 4.4-15 6-15 7.3-14 9.2-14 10.4-13 11.6-12 12.8-11 13.9-10 16-9.4 24-10.9 26-8.1 27-4.9 27-1.7 4.2-5 4.9-4 5.9-3.2 7-2.3 14-1.8 16-0.8 16 0.4 16 1.5 24 4.3 23 6.6 22 8.8 22 11.6 13 9.1 12 11.2 11 13.7 10 16.4 10 22.5 5.9 21 1.4 12 0.3 11-1.1 8-2.3 5-3.1 3-3.3 2-13.8 5-44.6 12-29.1 6 0.7 1 28.8 6 44.5 12 13.7 5 6 4.7 2.5 5.3 1 7-0.1 10-1.2 12-4.8 19-8.4 20.5-10 17.9-12 15.9-13 12.6-14 9.9-23 12-25 9.7-25 6.7-26 3.8z"/>
<path fill="#afff50" d="M618.5 1018.5l-27 0.9-14-0.9-13-1.6-7-2.2-5.9-3.2-4.9-4-4.2-5-24-1.9-21-3.5-21-5.7-21-8.2-13.6-6.7-13.3-8-12.1-8.6-11.2-9.4-10.2-10-9.4-11-8.7-12-7.1-12-6.6-14-5.4-15-3.6-15-2.1-15-0.4-16 1.1-15 2.6-15 4.3-15 5.6-14 7.3-14 8.4-13 10.3-13 11.6-12 12.5-10.7 14-10 14.1-8.3 22.9-10.4 24-7.7 25-4.8 26.9-2.1 4.2-5 4.9-4 6-3.3 7-2.2 14-1.7 16-0.9 16 0.4 15 1.3 23 4.1 23 6.5 21 8.4 21 11 13 8.7 12 11.3 11 13.9 9 15 9 20.5 3.5 11 2 9 1.3 12 0.2 10-1.2 8-2.4 5-2.8 3-4.6 2.8-13.8 5.2-42.6 12-28.5 6 0.9 1 28 6 42.5 12 13.4 5 6.8 5 2.8 5 1.3 6 0.2 9-1 12-1.5 9-2.5 9.1-8.8 21.9-10.2 17.9-11 14.3-12 11.6-14 9.5-22 11.4-24 9.3-24 6.3-25 3.7z"/>
<path fill="#bfff40" d="M611.5 1013.5l-25-0.5-14-1.5-7-1.5-5-1.9-5-3-9-8.9-15-0.9-15-1.9-15-3-14-3.9-14.1-5-13.5-6-13.1-7-12.3-7.9-14.2-11.1-13.5-13-11.3-13.4-9.7-14.6-8.2-16-6-16-4.2-17-2-17 0-18 2.2-17 4.3-17 6.5-17 8.5-16 10.4-15 12.2-14 13-12 13-9.9 13-8.2 15-7.7 14.9-6.2 16.1-5.2 17-3.9 17-2.5 18-1.2 8-8.2 8-4.5 9-2.4 19-2 17-0.3 18 1.1 17 2.4 17 3.8 17 5.2 16 6.4 16 7.8 15 9 9 7.2 9 9.4 8 10.4 8 13.2 6 12.6 5 13.7 2.6 11 1.7 14 0 10-1.6 8-3.7 6-5.4 4-12.2 5-29.2 9-22.4 6-19.8 4 1 1.1 15 2.9 19.5 5 36.2 11 13.7 6 3.7 3 2.3 3 2.4 7 0.7 9-0.8 12-2.4 13-3.3 11-5 12.1-6 11.7-7 11-11 13.5-11 9.9-15 9.5-18 9.1-20 7.8-20 5.7-21 3.9-21 1.8z"/>
<path fill="#cfff30" d="M623.5 1007.5l-27 0.2-15-1.4-11-1.9-6-2.3-5-3-4-3.6-4-5.1-27-2.6-14-2.7-13-3.5-13-4.5-12-5.1-12-6.1-10.5-6.4-14.5-10.5-12.9-11.5-11.7-13-10.1-14-8.4-15-6.3-15-4.6-16-2.7-16-0.7-17 1.2-16 3.4-17 5.3-16 6.9-15 9.2-15 10.9-14 12.8-13 12-10 12.7-8.7 14-8 14-6.4 17-6.1 18-4.6 18-2.9 18-1.3 6-7 7-4.7 8-2.8 13-1.9 17-1.2 18 0.3 18 1.8 17 3.1 17 4.7 17 6.1 16 7.4 15 8.3 9 6.4 9 8.4 8 9.5 7 10.5 7 13.1 5 12.3 3.1 10.7 2.2 13 0.5 13-1.4 9-3.2 6-5.9 5-13.6 6-27.9 9-21.5 6-19.4 4 1.1 1.1 14.5 2.9 18.9 5 34.5 11 13.6 6 4 3 2.6 3 2.6 6 1.1 8-0.3 11-2 13-2.5 9.6-4 10.7-5 10.6-6 10.4-10 13.4-11 10.9-11 7.8-17 9.2-19 8.2-20 6.5-20 4.3-20 2.4z"/>
<path fill="#dfff20" d="M619.5 1002.5l-24-0.7-22-3.4-5-2-4.7-2.9-8.3-8.8-14-1-14-2.1-13-2.8-13-3.8-13-4.8-12-5.6-11.2-6.1-10.8-7-13-10.2-12.2-11.8-10.9-13-9.2-14-7.5-15-5.5-15-3.8-16-1.7-16 0.2-16 2.1-16 4.1-16 5.9-15 7.9-15 9.8-14 11.4-13 12.4-11.4 11.4-8.6 12.7-8 12.9-6.7 14-5.8 14-4.6 15-3.6 15-2.3 16-1.3 7-7.7 9-5.3 13-2.9 19-1.8 16-0.1 16 1.1 16 2.4 15 3.4 16 5 15 5.9 15 7.4 13 7.9 9 7.1 8 8.4 7 9.3 7 11.7 5 10.5 4 11.3 2.9 12.7 1.3 12-0.4 10-1.9 7-3.9 5.8-5.6 4.2-13.4 6-26.5 9-20.8 6-18.9 4 1.2 1.1 14.1 2.9 18.2 5 33 11 13.3 6 4.2 3 3.6 4 2.6 6 1.2 8-0.3 10-1.9 12.4-3 11.4-3.9 10.2-5.1 10.3-6 9.8-10 12.7-10 9.2-13 8.6-19 9.6-19 7.3-19 5.3-20 3.6-20 1.6z"/>
<path fill="#efff10" d="M635.5 996.6l-15 0.7-14-0.3-15-1.5-13-2.3-5-1.8-5-3-4.4-3.9-3.7-5-24.9-3-22-5.2-22-8.4-20-10.7-13.7-9.7-12.3-10.7-10.6-11.3-9.7-13-7.7-13-6.3-14-4.8-15-2.8-15-1.1-15 0.8-16 2.9-16 4.6-15 6.6-15 8.4-14 9.9-13 11.4-12 10.5-9 11.9-8.5 12.8-7.5 13.2-6.3 15-5.6 16-4.4 16-2.9 17.7-1.8 5.8-7 6.5-4.5 7-2.6 13-2.2 16-1.4 16-0.1 17 1.3 16 2.5 16 3.9 15 5 15 6.3 15 7.8 10 6.6 8 6.8 7 7.6 7 9.6 6 10.5 5 11.3 3.6 11.6 2.3 12 0.7 12-1.3 9-3.4 7-5.9 5.5-13 6.5-24.8 9-23 7-18.5 4 0.7 1 14.3 3 14.4 4 32.1 11 15.5 7 4.4 3 3.9 4 2.7 5 1.6 7 0.2 8-0.9 10-2.3 11-3.1 10-4.2 9.8-5 9.2-8 11.6-10 10.8-11 8.4-13 7.5-18 8.1-19 6.6-19 4.5-19 2.6z"/>
<path fill="#ffff00" d="M638.5 991.6l-14 0.6-14-0.3-14-1.5-14-2.5-5-1.8-5-3-4-3.6-4-5.4-24-3-21-5.2-21-8.2-18.7-10.2-12.7-9-11.6-10.1-11-11.9-8.9-12-7.5-13-6.2-14-4.3-14-2.5-14-1-15 0.8-15 2.7-15 4.7-15 6.2-14 7.7-13 9.3-12.3 11.1-11.7 10.4-9 11.1-8 11.8-7 12.6-6.1 15-5.7 14.9-4.2 15.1-2.8 17-1.9 5-6.5 7-5 7-2.6 15-2.5 15-1.3 15-0.1 16 1.1 15 2.4 15 3.5 15 4.8 15 6.2 14 7.1 9 5.8 8 6.7 7 7.3 7 9.4 6 10.4 4.4 10 3.6 11.5 2.2 11.5 0.6 12-1.5 9-3.7 7-5.6 5-13.5 7-23.7 9-22.1 7-18.1 4 0.7 1 13.9 3 13.9 4 30.8 11 15.1 7 5.7 4 3.3 3.5 3 5.5 1.5 6 0.4 7-0.7 9-1.9 10-2.9 10-3.5 9-4.9 9.4-8 11.8-9 9.8-11 8.8-12 6.9-18 8.2-18 6.1-19 4.5-19 2.6z"/>
<path fill="#ffef00" d="M643.5 986.5l-15 0.8-14-0.4-15-1.7-14-2.7-5-2-4.8-3-4-4-3.2-4.6-22-2.9-20-5-19.5-7.5-18.3-10-12.7-9-11.4-10-10.1-11-8.2-11-7.6-13-5.7-13-4.1-13-2.7-14-1-14 0.8-15 2.6-15 4.3-14 6.3-14 7.7-13 9.2-12 10.4-10.9 10-8.6 10.5-7.5 11.5-6.8 12-5.8 14-5.4 14-3.9 14-2.7 16-1.9 5-6.6 7-5 7-2.5 15-2.7 14-1.3 15-0.2 15 1 15 2.2 15 3.5 14 4.4 14 5.6 14 6.9 9 5.8 8 6.7 7 7.4 6 8.1 5.4 9.2 4.6 10.4 3.4 10.6 2.2 11 0.5 11-1.4 9-3.7 7-6.6 6-13.3 7-25.5 10-18.5 6-17.6 4 0.6 1 13.7 3 13.4 4 29.5 11 16.3 8 4.2 3 3.9 4 2.9 5 1.6 6 0.6 7-0.5 8-4.1 18-3.6 9.4-4.3 8.6-7.2 11-8.5 9.6-10 8.4-11 6.7-17 7.9-18 6.3-18 4.4-19 2.7z"/>
<path fill="#ffdf00" d="M648.5 981.6l-15 0.8-15-0.4-15-1.7-14-2.8-5.3-2-4.7-3-4-4-3-4.6-21-2.9-18-4.6-18-6.9-16.9-9-12.1-8.3-11-9.4-9.8-10.3-8.4-11-7.3-12-5.6-12-4.4-13-2.7-13-1.3-14 0.4-14 2.1-14 4-14 5.4-13 7.3-13 8.7-12 10.2-11 8.9-8 10.5-7.8 11-6.8 11-5.5 13-5.3 14-4.2 13-2.7 17-2.3 5-6.7 6.5-4.7 6.5-2.4 14-2.7 14-1.5 15-0.4 15 0.8 14 1.9 14 3.1 14 4.2 14 5.4 13 6.2 8 4.9 8 6.3 7 7.1 6.3 8.1 5.4 9 4.3 9.2 3.6 10.8 2.1 10 0.7 11-1.4 9-3.5 7-6.2 6-12.3 7-23.9 10-20.5 7-17.2 4 0.6 1 13.4 3 12.9 4 26 10 16.5 8 5.9 4 4.1 4 3.1 5 1.6 5 0.9 6-0.2 8-1.4 9-2.4 9-7.3 17-7.1 11.1-8 9.1-9 7.8-11 6.8-16 7.4-17 6-17 4.2-18 2.7z"/>
<path fill="#ffcf00" d="M644.5 977.5l-14 0.2-13-0.8-14-2-12-2.7-4-1.7-4.5-3-7.5-8.8-20-2.8-19-5.2-18-7.5-16.8-9.7-11.2-8.5-10.3-9.5-9.5-11-7.5-11-6.4-12-4.8-12-3.5-13-1.8-13-0.4-14 1.3-13 2.9-13 4.5-13 5.8-12 7.6-12 8.9-11 10.2-10.1 9-7.3 9.7-6.6 10.6-6 10.9-5 10.8-4 12-3.4 12-2.4 13-1.5 7.4-8.7 3.6-2.5 5-2.3 14-3.1 15-1.9 13-0.6 13 0.4 13 1.4 13 2.3 13 3.3 13 4.4 13 5.5 10 5.3 8 5.6 7 6.3 6 6.8 5.7 8.1 4.9 9 3.6 9 2.9 10 1.3 9-0.1 10-2.1 8-3.8 6-7 6-12.7 7-23.5 10-17.1 6-16.8 4 0.7 1 13 3 12.5 4 27.1 11 15.4 8 5.5 4 3.8 4 2.9 5 1.6 5 0.8 7-0.3 7-1.3 8.1-2.5 8.9-3.5 9-4 7.7-7 10.3-8 8.8-9 7.3-11 6.5-17 7.2-17 5.5-18 3.8-18 1.9z"/>
<path fill="#ffbf00" d="M653.5 972.6l-15 0.6-14-0.5-15-2-14-3.1-5-2.1-4-2.8-7-8.7-18-2.6-17-4.5-16-6.3-15-8.2-11.3-7.9-10.3-9-9.3-10-7.4-10-6.5-11-5.4-12-3.8-12-2.3-12-1-13 0.6-13 2.2-13 3.9-13 5.2-12 7-12 8.3-11 9.1-9.7 8.3-7.3 9.6-7 9.9-6 10.2-5.1 12-4.7 12-3.6 12.1-2.6 12.9-1.6 5.5-7.4 6.5-4.6 10-3.1 15-2.7 12-1.1 13-0.3 13 0.7 13 1.7 13 2.8 13 3.8 13 4.8 11 5.1 8 5 7 5.5 6.3 6.4 5.7 7.2 5 8 4.1 8.8 3.4 10 1.8 9 0.5 10-1.8 9-4.1 7-6.5 6-13.7 8-22.6 10-16.5 6-16.4 4 0.8 1.1 12.6 2.9 12 4 24 10 17.1 9 5.4 4 3.9 4 3.2 5 1.7 5 0.9 6-0.1 6-2.8 15-6.5 16-6.4 10.1-7.6 8.9-8.4 7.4-10 6.4-15 6.7-16 5.4-16 3.8-17 2.4z"/>
<path fill="#ffaf00" d="M652.5 968.5l-14 0.3-13-0.8-14-2.1-13-3.1-5-2.1-4-2.9-3-3.3-3-5.1-18-2.7-17-4.7-16-6.7-15.1-8.8-10.6-8-9.7-9-8.6-10-6.9-10-5.9-11-4.4-11-3.3-12-1.8-12-0.4-13 1.1-12 2.5-12 4.1-12 5.7-12 7-11 8-10 9.3-9.3 16.8-12.7 19.2-10.1 21-7.1 23-3.9 2.9-4.9 3.1-3.4 4-2.9 4-1.8 14-3.4 15-2.2 24-0.5 24 3 24 6.5 12 4.7 9 4.5 7 4.5 7 5.9 6 6.3 5.1 6.8 4.9 8.5 3.7 8.5 2.7 9 1.3 8 0.1 9-1.9 8-4.2 7-6.6 6-13.4 8-21.7 10-16 6-15.9 4 0.9 1.1 12.1 2.9 11.7 4 23.1 10 16.5 9 5.4 4 4 4 2.8 4 2.1 5 1.1 6 0.2 6-0.8 7-1.9 8-6.3 15.3-6.1 9.7-7.9 9.1-9 7.5-10 6-15 6.3-16 4.9-16 3.4-16 1.8z"/>
<path fill="#ff9f00" d="M648.5 964.5l-13-0.3-12-1.2-12-2.2-11-2.9-4-1.9-4-3-6-8.1-18-2.9-17-5.2-16.2-7.3-14.8-9.4-9.4-7.6-9-9-7.9-10-6.3-10-5.3-11-3.8-11-2.6-12-1.2-12 0.3-12 1.8-12 3.2-12 4.5-11 6-11 7.1-10 8.6-9.7 9.2-8.3 15.8-11 17-8.3 19-6 19-3.2 6-8.1 7-4.5 20-4.9 21-2.1 22 0.9 21 3.6 22 6.8 9 3.8 8 4.5 7 5.1 6 5.6 5 5.8 5 7.4 4 7.6 3.1 8 2.1 8 0.9 8-0.7 9-2.5 7-4.3 6-7.1 6-13.5 8-21.4 10-16.2 6-12.4 3 1 1.1 11.7 2.9 11.2 4 22.3 10 16 9 5.4 4 4.8 5 2.6 4 2 5 1 6 0.1 6-1 7-2 8-6.2 14-6 9-7.9 8.7-9 7.1-10 5.6-16 6.1-16 4.5-16 2.8-17 1.2z"/>
<path fill="#ff8f00" d="M664.5 959.6l-15 0.8-14-0.6-14-1.9-14-3.3-6-2-4-2.5-4-4-3-5.3-16-2.8-13-3.6-13-5.2-13-7-9.8-6.7-9.2-7.9-7.8-8.1-6.9-9-6.2-10-4.6-10-3.8-11-2.3-11-1-11 0.3-12 1.8-12 3.1-11 4.5-11 5.5-10 7.1-10 8.3-9.3 15.2-12.7 17.8-10.4 20-7.5 23-4.6 4.1-6.5 6.5-5 10.4-3.3 14-2.9 22-1.8 23 1.5 23 5 12 3.9 10 4.2 13 8.4 6 5.5 5.5 6.5 4.6 7 3.9 7.6 2.7 7.4 1.9 8 0.6 10-1.6 8-3.6 7-6.9 7-14 9-20.2 10-14.9 6-15 4 1 1.2 8 1.8 11.7 4 22 10 17.4 10 9.3 8 2.9 4 2.4 5 1.6 10-1.5 12-4.8 13.5-5.4 9.5-6.6 8.3-8 7.4-9 6-11 5-15 5-14 3.3-14 2.1z"/>
<path fill="#ff8000" d="M667.5 955.5l-14 0.8-14-0.5-14-1.8-14-3.3-6.5-2.2-4.5-2.7-4-4.2-3-5.2-14-2.3-12.7-3.6-12.5-5-11.8-6.3-9.8-6.7-8.3-7-7.7-8-7-9-5.6-9-4.7-10-3.5-10-2.4-11-1.1-11 0.2-11 1.6-11 2.9-11 4.4-11 5.5-10 6.5-9.2 8-9.1 14-11.9 17-10.1 10-4.3 10-3.3 10-2.4 11-1.7 4.4-7 5.6-4.4 11-3.7 14-3 21-1.8 22 1.3 22 4.4 21 7.5 7 3.8 6 4.3 6 5.5 5 5.8 8 13.3 3 7.9 1.7 7.1 0.5 10-1.6 8-3.8 7-6.8 7-13.6 9-19.5 10-14.4 6-14.6 4 1.1 1.2 7.7 1.8 11.3 4 21.3 10 16.8 10 9.2 8 5 8 2 10-1.2 12-4.1 12-5 9-7 9-7.6 7-8.4 5.6-10 4.6-14 4.6-13 3.1-14 2.1z"/>
<path fill="#ff7000" d="M670.5 951.5l-14 0.9-14-0.5-14-1.9-13-3.1-7.2-2.4-4.8-2.8-3.2-3.2-3.8-6.2-13-2.3-12-3.4-12-4.9-11-5.9-9.2-6.3-8.2-7-7.6-7.9-6.2-8.1-5.6-9-4.3-9-3.5-10-2.2-10-1.1-11 0.2-11 1.6-11 2.7-10 4-10 5.5-10 6.3-9 7.6-8.6 13.4-11.4 15.6-9.4 19-7.4 20-4.1 4.6-7.1 5.4-4.3 11-3.7 14-3.1 21-1.9 21 1.2 21 4.2 20 7 7 3.8 6 4.4 10 10.4 7.7 13 4 13 0.6 10-1.7 8-3.8 7-6.8 7-13.2 9-18.9 10-13.9 6-14.2 4 0.6 1 8 2 10.9 4 16.8 8 17.2 10 11 9 5.5 8 1.7 5 0.8 5-0.8 11-3.9 12-4.9 9-6.1 8-7.6 7.1-8 5.4-9 4.2-13 4.3-13 3.1-13 1.9z"/>
<path fill="#ff6000" d="M659.5 948.5l-13-0.4-12-1.5-12-2.6-11-3.4-4-2.1-3-2.6-5-7.6-14-2.7-14-4.5-13-6.1-12-7.8-8.1-6.7-7.7-8-6.2-8-5.5-9-4.6-10-3.3-10-1.9-10-0.8-10 0.4-10 1.6-10 2.8-10 4.2-10 5-9 6.5-9 7.3-8 8-7 12.3-8.4 13.2-6.6 14.8-5 15-2.9 5-7.6 3-2.6 4-2.1 10-3.2 11-2.5 22-2.2 18 0.8 18 3 19 5.6 12 6 10.4 8.7 8.4 11 5.7 13 1.9 12-0.9 8-2.8 7-4.5 6-6.7 6-13.6 9-16.9 9-14.2 6-11.1 3 0.6 1 7.8 2 10.5 4 18.2 9 16.2 10 10.2 9 5 8 1.6 5 0.6 5-1.4 12-4.6 12-5.4 8.5-6.7 7.5-7.3 5.9-9 5.1-12 4.3-14 3.6-14 2.2-14 0.9z"/>
<path fill="#ff5000" d="M668.5 944.5l-13 0.2-13-1.1-12-2.1-12-3.4-6-2.3-3.5-2.3-2.9-3-3.6-6.1-12-2.3-12-3.7-11-4.8-10.5-6.1-8.1-6-7.6-7-7-8-5.5-8-4.4-8-3.7-9-2.6-9-1.7-10-0.4-10 0.8-10 2-10 2.9-9 4.2-9 5.4-9 6.2-8 7.9-8 12.1-9.4 14-7.8 15-5.5 16-3.3 5-7.7 6-4.2 16-4.9 17-2.9 18-0.6 18 1.7 19 4.3 15 5.8 11 7.6 8.9 9.9 6.4 12 2.9 12-0.1 8-2.4 8-4.6 7-6.2 6-12.8 9-16 9-15.7 7-10.7 3 0.5 1 15.5 5 18.1 9 16.1 10 10.4 9 5.5 8 2.4 9-0.6 11-3.6 11-4.5 8-5.6 7-6.9 6.3-8 5.1-9 3.9-13 3.8-13 2.5-13 1.4z"/>
<path fill="#ff4000" d="M675.5 940.5l-13 0.6-13-0.6-13-2-12-3.1-8.2-2.9-3.8-2.2-3.7-3.8-3.3-5.8-11-2.2-10-3-9.7-4-9.3-5.1-8-5.5-7.5-6.4-6.6-7-5.4-7-4.9-8-3.8-8-3.1-9-1.9-9-1-9 0.2-10 1.5-10 2.4-9 3.6-9 5-9 5.6-8 6.9-7.6 12.4-10.4 13.6-8 15-5.8 16-3.5 4-6.7 6-4.7 13-4.5 14-3 18-1.5 18 0.9 19 3.5 16 5.3 11 6.8 9 9.1 6.6 11.1 3.3 11 0.4 8-1.8 8-3.8 7-6.4 7-12 9-17 10-15.2 7-10.5 3 0.5 1 7.4 2 9.9 4 15.3 8 15.5 10 10.2 9 5.3 8 2.4 8-0.2 10-2.9 10-4 7.7-5.5 7.3-6.5 6.1-7 4.7-8 3.8-10 3.1-12 2.7-12 1.6z"/>
<path fill="#ff3000" d="M668.5 937.5l-12-0.2-12-1.4-11-2.3-11-3.5-5-2-3.7-2.6-2.5-3-2.8-5.5-12-2.4-11-3.7-11-5.2-9.7-6.2-7.4-6-6.9-7-5.5-7-5-8-3.8-8-3.1-9-1.8-8-0.9-9 0.1-9 1.1-9 2.3-9 3.5-9 4.3-8 5.4-8 6.1-7 7.3-6.8 10.1-7.2 11.9-6.3 13-4.6 13-2.7 4.3-7.4 5.7-4.2 10-3.6 10-2.6 21-2.6 15 0.2 16 2.1 16 3.9 11 4.9 9.2 6.9 7.8 9.3 5.3 10.7 2 11-0.6 7-2.5 7-4.8 7-6.2 6-12.3 9-15.3 9-12.9 6-10.2 3 0.5 1 7.2 2 9.6 4 14.8 8 15 10 9.9 9 5.2 8 2.5 9-0.6 10-3.4 10-4.2 7.1-6 7.1-7 5.7-7 4-8 3.1-13 3.2-12 1.9-12 0.9z"/>
<path fill="#ff2000" d="M678.5 933.6l-13 0.5-12-0.8-12-1.9-11-3-9-3.3-4-2.3-3.8-4.3-2.2-4.9-10-2.1-9-2.7-9-3.9-8-4.4-7.2-5-7-6-11-13-4.2-7-3.8-8-2.7-8-1.8-9-0.8-9 0.4-9 1.5-9 2.3-8 3.3-8 4.4-8 5-7 6.6-7.3 11-9.2 12-7 13-5.2 15-3.6 3.5-6.7 5.5-4.3 14-4.9 15-3.2 16-1.3 16 0.8 18 3.2 13 4.2 10 6.1 8 8 6 10 3 10.4 0 8-1.8 7-4.1 7-6.4 7-11.6 9-14.5 9-14.3 7-9.9 3 0.6 1 6.9 2 7.2 3 14.9 8 14.8 10 9.9 9 5.6 8 2.6 8 0.1 9-2.5 9-3.5 7-5 6.6-5.7 5.4-6.3 4.3-7 3.3-8 2.5-12 2.6-11 1.4z"/>
<path fill="#ff1000" d="M675.5 930.5l-12 0-11-1-11-2.1-11-3.3-8-3.2-3-2-2.9-3.4-3.1-5.5-10-2.1-9-3-9-4.2-8-4.8-7.1-5.4-6.3-6-10-13-3.8-7-3.2-8-2.1-8-1.2-8-0.3-9 0.7-8 2-9 2.8-8 3.9-8 4.5-7 5.6-7 6.1-6 9.4-7.2 11-6.1 11-4.3 13.7-3.4 3.8-7 5.5-4 17-5.7 18-3.1 15-0.4 15 1.4 16 3.3 10 4 9 6.2 7 7.9 5 9.4 2 9-0.3 8-2.4 7-3.8 6-6.6 7-11.4 9-14.4 9-12.1 6-9.6 3 0.6 1.1 6.7 1.9 6.9 3 14.4 8 14.3 10 9.6 9 5.4 8 2.5 8 0.1 8-2.4 9-3.5 6.8-4.8 6.2-5.4 5-6.8 4.4-7 3-9 2.5-12 2.1-11 1z"/>
<path fill="#ff0000" d="M685.5 926.5l-13 0.8-12-0.5-12-1.7-11-2.8-10-3.7-5-2.6-3.2-3.5-2.8-5.7-16-4.2-14-6.6-12.9-9.5-10.1-11.1-7.6-12.9-4.9-15-1.1-8-0.1-9 0.8-8 1.9-8 2.9-8 3.6-7 4.5-7 5.9-7 10.1-9 11-6.9 12.2-5.1 13.8-3.4 3.4-6.6 4.6-3.9 12-4.7 12-3.1 15-2 15 0 16 1.9 14 3.6 9 4.5 8 6.9 6 8.5 3.4 9.3 0.6 8-1.8 8-3.8 7-6 7-10.7 9-13.6 9-13.5 7-9.3 3 0.7 1.1 8.9 2.9 11.7 6 11 7 10.5 8 6.3 6 4.8 6 3 6 1.7 7-0.3 8-2.5 8-4.8 8-6.3 6.6-7 4.8-7 3.1-10 2.6-12 1.9z"/>
<path fill="#ef0000" d="M684.5 923.5l-12 0.6-12-0.7-11-1.8-11-3-9-3.4-4.9-2.7-3.1-3.6-2.7-5.4-15.3-4.1-14-6.8-11.9-9.1-9.5-11-7.3-13-4.1-14-1-8 0.1-8 1-8 2.1-8 6.5-14 4.8-7 5.3-6 9.3-8 10.7-6.5 11-4.6 12-2.9 1-0.7 3-6.2 4-3.4 13-5.2 14-3.5 14-1.5 14 0.1 16 2.1 11.8 3.3 8.2 4.5 7.2 6.5 5.4 8 2.9 9 0.2 8-1.8 7-4 7-6.1 7-9.3 8-13.1 9-13.1 7-9.1 3 0.8 1.2 6.1 1.8 6.6 3 12 7 12.5 9 9.6 9 5.1 7 3.3 8 0.7 8-1.7 8-2.7 6-4.3 6-5.2 4.9-5 3.4-11 4.5-19 3.2z"/>
<path fill="#df0000" d="M683.5 920.6l-11 0.2-11-0.7-11-1.9-10-2.8-13.3-5.9-3.5-4-2.2-5.1-15-4-13.6-6.9-11.4-9-9.2-11-6.8-13-3.6-14-0.2-15 1.3-8 2.1-7 6.5-13 9.8-12 8.3-7 10-6 10.8-4.4 11-2.6 3-6.3 5-4.2 14.3-5.5 15.7-3.4 13-1 13 0.4 15 2.2 9 2.8 8 4.7 6.5 6.3 4.9 8 2.2 8-0.1 7-2 7-4 7-6.2 7-10.5 9-11.7 8-11.1 6-8.9 3 0.9 1.2 5.9 1.8 6.3 3 11.7 7 12 9 9.3 9 4.9 7 3.1 8 0.5 7-1.6 8-2.3 5-3.8 5.5-4.5 4.5-5.5 3.8-11 4.4-19 2.9z"/>
<path fill="#cf0000" d="M683.5 917.5l-11 0.2-11-1-10-1.9-10-2.9-12-5.5-3-3.1-3-6-14-3.9-13.5-6.9-10.9-9-8.8-11-5.8-12-3.2-13-0.5-7 0.5-8 3.5-14 6.8-13 9.4-11 7.5-6 9-5.4 10-4.1 10.2-2.5 3.6-7 4.2-3.2 15-5.9 17-3.5 12-0.7 13 0.6 13 2 8 2.7 7 4.2 6 5.9 4.2 6.9 2.2 8-0.1 7-2.1 7-3.4 6-5.9 7-10.1 9-11.4 8-10.8 6-8.5 3 0.9 1.2 5.6 1.8 6.2 3 11.3 7 11.6 9 8 8 5 7 3 7 0.9 7-1.3 8-2.1 5-3.3 5-4.9 4.9-5 3.5-11 4.2-18 2.4z"/>
<path fill="#bf0000" d="M683.5 914.5l-11 0-10-0.9-10-2-9-2.8-12-5.5-3-3.3-2.3-5.5-14.1-4-12.6-6.7-10.1-8.3-8.6-11-5.6-12-2.8-13 0.3-14 3.6-13 6.4-12 9.8-11 7-5.4 8-4.7 9-3.6 9.5-2.3 3.5-7 5.9-4 15.1-5.6 16-3.1 11-0.6 12 0.6 11 1.6 8 2.6 7 4.2 5.3 5.3 4.2 7 1.8 7-0.2 7-1.7 6-4 7-5.8 7-8.8 8-11 8-10.5 6-8.3 3 1 1.3 5.4 1.7 6 3 9.6 6 11.5 9 7.9 8 5 7 3.1 7 0.9 8-1.2 7-2.2 5-3.6 5-4.4 4.2-5 3.2-10 3.6-17 2z"/>
<path fill="#af0000" d="M684.5 911.5l-10 0.1-10-1-10-1.9-9-2.8-12-5.6-3-3.4-2-5.2-14-4.1-11.4-6.1-9.5-8-7.9-10-5.7-12-2.6-12 0.3-13 3.4-13 6.5-12 8.9-9.9 7-5.4 8-4.6 8-3.1 9-2.4 3.1-6.6 5.9-4.1 15-5.6 16-3 11-0.6 11 0.6 10 1.5 7 2.3 6.6 3.9 5 5 3.7 6 1.8 7 0 6-2 7-3.9 7-5.9 7-8.7 8-10.9 8-8.7 5-8.1 3 0.5 1 11.6 5 9.3 6 9.9 8 7.9 8 5.1 7 3 7 1.1 7-1 7-2.1 5-2.6 4-3.9 4-4.7 3.3-10 3.8-16 1.9z"/>
<path fill="#9f0000" d="M686.5 908.5l-10 0.1-10-0.8-9-1.7-9-2.7-13-6-3-3.4-2-5.1-12-3.4-11-5.7-10-8.2-7.1-9.1-5.4-11-2.6-11 0-13 2.9-12 5.6-11 8.5-10 7.1-5.7 7-4.2 8-3.3 9-2.3 3-6.6 5-3.6 14-5.6 15-3.2 11-0.8 11 0.4 10 1.3 7 2.2 6 3.5 4.9 4.9 3.5 6 1.6 6-0.1 6-2 7-3.3 6-5.5 7-8.4 8-9 7-10 6-7.8 3 0.4 1 7.6 3 8.4 5 8.2 6 7.8 7 5.4 6 4.2 6 2.8 6 1.2 5 0.1 6-1.6 6-2.8 5-4.6 5-5 3.3-6 2.5-16 2.2z"/>
<path fill="#8f0000" d="M688.5 905.6l-14 0-13-1.8-13-3.9-11-5.3-2.9-3.1-2.1-5.3-9-2.3-8-3.5-7.7-4.9-6.7-6-5-6-4.1-7-2.9-7-1.9-8-0.4-12 2.6-12 5.3-11 7.3-9 6.5-5.6 7-4.4 8-3.5 9-2.3 2.7-6.2 4.3-3.4 13-5.5 14-3.4 10-1 10 0 11 1.1 7 1.9 6 3.3 4.4 4 3.3 5 2 6 0.2 6-1.7 7-3.1 6-5.2 7-8 8-8.8 7-9.6 6-7.7 3 0.5 1 7.3 3 8.2 5 13.4 11 5.6 6 4.4 6 3 6 1.4 5 0.3 6-1 5-2.4 5-4.2 5-4.3 3.2-6 2.7-14 2.2z"/>
<path fill="#800000" d="M691.5 902.5l-14 0.3-13-1.5-13-3.6-11.2-5.2-3.3-3-2.5-5.8-8.3-2.2-7.7-3.3-7-4.5-6-5.2-5.1-6-3.7-6-2.7-6-2-7-0.9-12 1.9-11 4.7-11 6.7-9 6.7-6 7.4-4.8 7.4-3.2 8.6-2.3 2.4-5.7 3.6-3.2 11-5.1 12-3.4 9-1.3 10-0.5 12 0.7 7 1.4 6 2.7 5 4 3.4 4.7 2.1 6 0.2 6-1.7 7-3 6-5.2 7-7.9 8-8.7 7-8 5-7.4 3 0.4 1 5.2 2 8.5 5 13.3 11 9.2 11 3.3 6 1.6 5 0.5 6-0.8 4.9-2 4.7-3 4-4 3.4-5 2.6-5 1.5-7 0.9z"/>
</g>
<g><rect x="1260.2" y="68.7" width="62.2" height="423.5" fill="#00008f"/><rect x="1260.2" y="68.7" width="62.2" height="416.88" fill="#00009f"/><rect x="1260.2" y="68.7" width="62.2" height="410.27" fill="#0000af"/><rect x="1260.2" y="68.7" width="62.2" height="403.65" fill="#0000bf"/><rect x="1260.2" y="68.7" width="62.2" height="397.03" fill="#0000cf"/><rect x="1260.2" y="68.7" width="62.2" height="390.41" fill="#0000df"/><rect x="1260.2" y="68.7" width="62.2" height="383.8" fill="#0000ef"/><rect x="1260.2" y="68.7" width="62.2" height="377.18" fill="#0000ff"/><rect x="1260.2" y="68.7" width="62.2" height="370.56" fill="#0010ff"/><rect x="1260.2" y="68.7" width="62.2" height="363.95" fill="#0020ff"/><rect x="1260.2" y="68.7" width="62.2" height="357.33" fill="#0030ff"/><rect x="1260.2" y="68.7" width="62.2" height="350.71" fill="#0040ff"/><rect x="1260.2" y="68.7" width="62.2" height="344.09" fill="#0050ff"/><rect x="1260.2" y="68.7" width="62.2" height="337.48" fill="#0060ff"/><rect x="1260.2" y="68.7" width="62.2" height="330.86" fill="#0070ff"/><rect x="1260.2" y="68.7" width="62.2" height="324.24" fill="#0080ff"/><rect x="1260.2" y="68.7" width="62.2" height="317.62" fill="#008fff"/><rect x="1260.2" y="68.7" width="62.2" height="311.01" fill="#009fff"/><rect x="1260.2" y="68.7" width="62.2" height="304.39" fill="#00afff"/><rect x="1260.2" y="68.7" width="62.2" height="297.77" fill="#00bfff"/><rect x="1260.2" y="68.7" width="62.2" height="291.16" fill="#00cfff"/><rect x="1260.2" y="68.7" width="62.2" height="284.54" fill="#00dfff"/><rect x="1260.2" y="68.7" width="62.2" height="277.92" fill="#00efff"/><rect x="1260.2" y="68.7" width="62.2" height="271.3" fill="#00ffff"/><rect x="1260.2" y="68.7" width="62.2" height="264.69" fill="#10ffef"/><rect x="1260.2" y="68.7" width="62.2" height="258.07" fill="#20ffdf"/><rect x="1260.2" y="68.7" width="62.2" height="251.45" fill="#30ffcf"/><rect x="1260.2" y="68.7" width="62.2" height="244.84" fill="#40ffbf"/><rect x="1260.2" y="68.7" width="62.2" height="238.22" fill="#50ffaf"/><rect x="1260.2" y="68.7" width="62.2" height="231.6" fill="#60ff9f"/><rect x="1260.2" y="68.7" width="62.2" height="224.98" fill="#70ff8f"/><rect x="1260.2" y="68.7" width="62.2" height="218.37" fill="#80ff80"/><rect x="1260.2" y="68.7" width="62.2" height="211.75" fill="#8fff70"/><rect x="1260.2" y="68.7" width="62.2" height="205.13" fill="#9fff60"/><rect x="1260.2" y="68.7" width="62.2" height="198.52" fill="#afff50"/><rect x="1260.2" y="68.7" width="62.2" height="191.9" fill="#bfff40"/><rect x="1260.2" y="68.7" width="62.2" height="185.28" fill="#cfff30"/><rect x="1260.2" y="68.7" width="62.2" height="178.66" fill="#dfff20"/><rect x="1260.2" y="68.7" width="62.2" height="172.05" fill="#efff10"/><rect x="1260.2" y="68.7" width="62.2" height="165.43" fill="#ffff00"/><rect x="1260.2" y="68.7" width="62.2" height="158.81" fill="#ffef00"/><rect x="1260.2" y="68.7" width="62.2" height="152.2" fill="#ffdf00"/><rect x="1260.2" y="68.7" width="62.2" height="145.58" fill="#ffcf00"/><rect x="1260.2" y="68.7" width="62.2" height="138.96" fill="#ffbf00"/><rect x="1260.2" y="68.7" width="62.2" height="132.34" fill="#ffaf00"/><rect x="1260.2" y="68.7" width="62.2" height="125.73" fill="#ff9f00"/><rect x="1260.2" y="68.7" width="62.2" height="119.11" fill="#ff8f00"/><rect x="1260.2" y="68.7" width="62.2" height="112.49" fill="#ff8000"/><rect x="1260.2" y="68.7" width="62.2" height="105.87" fill="#ff7000"/><rect x="1260.2" y="68.7" width="62.2" height="99.26" fill="#ff6000"/><rect x="1260.2" y="68.7" width="62.2" height="92.64" fill="#ff5000"/><rect x="1260.2" y="68.7" width="62.2" height="86.02" fill="#ff4000"/><rect x="1260.2" y="68.7" width="62.2" height="79.41" fill="#ff3000"/><rect x="1260.2" y="68.7" width="62.2" height="72.79" fill="#ff2000"/><rect x="1260.2" y="68.7" width="62.2" height="66.17" fill="#ff1000"/><rect x="1260.2" y="68.7" width="62.2" height="59.55" fill="#ff0000"/><rect x="1260.2" y="68.7" width="62.2" height="52.94" fill="#ef0000"/><rect x="1260.2" y="68.7" width="62.2" height="46.32" fill="#df0000"/><rect x="1260.2" y="68.7" width="62.2" height="39.7" fill="#cf0000"/><rect x="1260.2" y="68.7" width="62.2" height="33.09" fill="#bf0000"/><rect x="1260.2" y="68.7" width="62.2" height="26.47" fill="#af0000"/><rect x="1260.2" y="68.7" width="62.2" height="19.85" fill="#9f0000"/><rect x="1260.2" y="68.7" width="62.2" height="13.23" fill="#8f0000"/><rect x="1260.2" y="68.7" width="62.2" height="6.62" fill="#800000"/></g>
<g><rect x="1260.2" y="623.8" width="62.2" height="421.4" fill="#00008f"/><rect x="1260.2" y="623.8" width="62.2" height="414.82" fill="#00009f"/><rect x="1260.2" y="623.8" width="62.2" height="408.23" fill="#0000af"/><rect x="1260.2" y="623.8" width="62.2" height="401.65" fill="#0000bf"/><rect x="1260.2" y="623.8" width="62.2" height="395.06" fill="#0000cf"/><rect x="1260.2" y="623.8" width="62.2" height="388.48" fill="#0000df"/><rect x="1260.2" y="623.8" width="62.2" height="381.89" fill="#0000ef"/><rect x="1260.2" y="623.8" width="62.2" height="375.31" fill="#0000ff"/><rect x="1260.2" y="623.8" width="62.2" height="368.73" fill="#0010ff"/><rect x="1260.2" y="623.8" width="62.2" height="362.14" fill="#0020ff"/><rect x="1260.2" y="623.8" width="62.2" height="355.56" fill="#0030ff"/><rect x="1260.2" y="623.8" width="62.2" height="348.97" fill="#0040ff"/><rect x="1260.2" y="623.8" width="62.2" height="342.39" fill="#0050ff"/><rect x="1260.2" y="623.8" width="62.2" height="335.8" fill="#0060ff"/><rect x="1260.2" y="623.8" width="62.2" height="329.22" fill="#0070ff"/><rect x="1260.2" y="623.8" width="62.2" height="322.63" fill="#0080ff"/><rect x="1260.2" y="623.8" width="62.2" height="316.05" fill="#008fff"/><rect x="1260.2" y="623.8" width="62.2" height="309.47" fill="#009fff"/><rect x="1260.2" y="623.8" width="62.2" height="302.88" fill="#00afff"/><rect x="1260.2" y="623.8" width="62.2" height="296.3" fill="#00bfff"/><rect x="1260.2" y="623.8" width="62.2" height="289.71" fill="#00cfff"/><rect x="1260.2" y="623.8" width="62.2" height="283.13" fill="#00dfff"/><rect x="1260.2" y="623.8" width="62.2" height="276.54" fill="#00efff"/><rect x="1260.2" y="623.8" width="62.2" height="269.96" fill="#00ffff"/><rect x="1260.2" y="623.8" width="62.2" height="263.38" fill="#10ffef"/><rect x="1260.2" y="623.8" width="62.2" height="256.79" fill="#20ffdf"/><rect x="1260.2" y="623.8" width="62.2" height="250.21" fill="#30ffcf"/><rect x="1260.2" y="623.8" width="62.2" height="243.62" fill="#40ffbf"/><rect x="1260.2" y="623.8" width="62.2" height="237.04" fill="#50ffaf"/><rect x="1260.2" y="623.8" width="62.2" height="230.45" fill="#60ff9f"/><rect x="1260.2" y="623.8" width="62.2" height="223.87" fill="#70ff8f"/><rect x="1260.2" y="623.8" width="62.2" height="217.28" fill="#80ff80"/><rect x="1260.2" y="623.8" width="62.2" height="210.7" fill="#8fff70"/><rect x="1260.2" y="623.8" width="62.2" height="204.12" fill="#9fff60"/><rect x="1260.2" y="623.8" width="62.2" height="197.53" fill="#afff50"/><rect x="1260.2" y="623.8" width="62.2" height="190.95" fill="#bfff40"/><rect x="1260.2" y="623.8" width="62.2" height="184.36" fill="#cfff30"/><rect x="1260.2" y="623.8" width="62.2" height="177.78" fill="#dfff20"/><rect x="1260.2" y="623.8" width="62.2" height="171.19" fill="#efff10"/><rect x="1260.2" y="623.8" width="62.2" height="164.61" fill="#ffff00"/><rect x="1260.2" y="623.8" width="62.2" height="158.03" fill="#ffef00"/><rect x="1260.2" y="623.8" width="62.2" height="151.44" fill="#ffdf00"/><rect x="1260.2" y="623.8" width="62.2" height="144.86" fill="#ffcf00"/><rect x="1260.2" y="623.8" width="62.2" height="138.27" fill="#ffbf00"/><rect x="1260.2" y="623.8" width="62.2" height="131.69" fill="#ffaf00"/><rect x="1260.2" y="623.8" width="62.2" height="125.1" fill="#ff9f00"/><rect x="1260.2" y="623.8" width="62.2" height="118.52" fill="#ff8f00"/><rect x="1260.2" y="623.8" width="62.2" height="111.93" fill="#ff8000"/><rect x="1260.2" y="623.8" width="62.2" height="105.35" fill="#ff7000"/><rect x="1260.2" y="623.8" width="62.2" height="98.77" fill="#ff6000"/><rect x="1260.2" y="623.8" width="62.2" height="92.18" fill="#ff5000"/><rect x="1260.2" y="623.8" width="62.2" height="85.6" fill="#ff4000"/><rect x="1260.2" y="623.8" width="62.2" height="79.01" fill="#ff3000"/><rect x="1260.2" y="623.8" width="62.2" height="72.43" fill="#ff2000"/><rect x="1260.2" y="623.8" width="62.2" height="65.84" fill="#ff1000"/><rect x="1260.2" y="623.8" width="62.2" height="59.26" fill="#ff0000"/><rect x="1260.2" y="623.8" width="62.2" height="52.67" fill="#ef0000"/><rect x="1260.2" y="623.8" width="62.2" height="46.09" fill="#df0000"/><rect x="1260.2" y="623.8" width="62.2" height="39.51" fill="#cf0000"/><rect x="1260.2" y="623.8" width="62.2" height="32.92" fill="#bf0000"/><rect x="1260.2" y="623.8" width="62.2" height="26.34" fill="#af0000"/><rect x="1260.2" y="623.8" width="62.2" height="19.75" fill="#9f0000"/><rect x="1260.2" y="623.8" width="62.2" height="13.17" fill="#8f0000"/><rect x="1260.2" y="623.8" width="62.2" height="6.58" fill="#800000"/></g>
<path d="M248.15 492.2V481.2M248.15 69.1V80.1M389.65 492.2V481.2M389.65 69.1V80.1M531.15 492.2V481.2M531.15 69.1V80.1M672.65 492.2V481.2M672.65 69.1V80.1M814.15 492.2V481.2M814.15 69.1V80.1M955.65 492.2V481.2M955.65 69.1V80.1M1097.15 492.2V481.2M1097.15 69.1V80.1M117.25 421.8H128.25M1227.9 421.8H1216.9M117.25 280.75H128.25M1227.9 280.75H1216.9M117.25 139.7H128.25M1227.9 139.7H1216.9" stroke="#262626" stroke-width="2" fill="none"/>
<rect x="117.25" y="69.1" width="1110.65" height="423.1" stroke="#262626" stroke-width="2" fill="none"/>
<path d="M1322.4 492.2H1317.6M1322.4 386.32H1317.6M1322.4 280.45H1317.6M1322.4 174.57H1317.6M1322.4 68.7H1317.6" stroke="#262626" stroke-width="2" fill="none"/>
<rect x="1260.2" y="68.7" width="62.2" height="423.5" stroke="#262626" stroke-width="2" fill="none"/>
<path d="M249.2 1045.3V1034.3M249.2 622.2V633.2M390.7 1045.3V1034.3M390.7 622.2V633.2M532.2 1045.3V1034.3M532.2 622.2V633.2M673.7 1045.3V1034.3M673.7 622.2V633.2M815.2 1045.3V1034.3M815.2 622.2V633.2M956.7 1045.3V1034.3M956.7 622.2V633.2M1098.2 1045.3V1034.3M1098.2 622.2V633.2M118.4 975.2H129.4M1228.7 975.2H1217.7M118.4 833.95H129.4M1228.7 833.95H1217.7M118.4 692.7H129.4M1228.7 692.7H1217.7" stroke="#262626" stroke-width="2" fill="none"/>
<rect x="118.4" y="622.2" width="1110.3" height="423.1" stroke="#262626" stroke-width="2" fill="none"/>
<path d="M1322.4 1045.2H1317.6M1322.4 939.85H1317.6M1322.4 834.5H1317.6M1322.4 729.15H1317.6M1322.4 623.8H1317.6" stroke="#262626" stroke-width="2" fill="none"/>
<rect x="1260.2" y="623.8" width="62.2" height="421.4" stroke="#262626" stroke-width="2" fill="none"/>
<path d="M522.75 272.6L539.55 289.4M522.75 289.4L539.55 272.6" stroke="#fff" stroke-width="7.5" fill="none"/>
<path d="M805.7 272.6L822.5 289.4M805.7 289.4L822.5 272.6" stroke="#fff" stroke-width="7.5" fill="none"/>
<circle cx="673" cy="282" r="12" stroke="#fff" stroke-width="9.6" fill="none"/>
<path d="M523.8 825.5L540.6 842.3M523.8 842.3L540.6 825.5" stroke="#fff" stroke-width="7.5" fill="none"/>
<path d="M806.8 825.5L823.6 842.3M806.8 842.3L823.6 825.5" stroke="#fff" stroke-width="7.5" fill="none"/>
<circle cx="673.5" cy="834.6" r="12" stroke="#fff" stroke-width="9.6" fill="none"/>
<g mask="url(#nf)">
<text x="248.15" y="553" text-anchor="middle" font-size="43" fill="#161616">-15</text>
<text x="389.65" y="553" text-anchor="middle" font-size="43" fill="#161616">-10</text>
<text x="531.15" y="553" text-anchor="middle" font-size="43" fill="#161616">-5</text>
<text x="672.65" y="553" text-anchor="middle" font-size="43" fill="#161616">0</text>
<text x="814.15" y="553" text-anchor="middle" font-size="43" fill="#161616">5</text>
<text x="955.65" y="553" text-anchor="middle" font-size="43" fill="#161616">10</text>
<text x="1097.15" y="553" text-anchor="middle" font-size="43" fill="#161616">15</text>
<text x="100" y="437.65" text-anchor="end" font-size="43" fill="#161616">-5</text>
<text x="100" y="296.6" text-anchor="end" font-size="43" fill="#161616">0</text>
<text x="100" y="155.55" text-anchor="end" font-size="43" fill="#161616">5</text>
<text x="672.2" y="596" text-anchor="middle" font-size="48" fill="#161616">X range (km)</text>
<text transform="translate(39 280.6) rotate(-90)" text-anchor="middle" font-size="48" fill="#161616">Y range (km)</text>
<text x="1338.3" y="507.1" font-size="39" fill="#161616">-10</text>
<text x="1338.3" y="401.22" font-size="39" fill="#161616">0</text>
<text x="1338.3" y="295.35" font-size="39" fill="#161616">10</text>
<text x="1338.3" y="189.47" font-size="39" fill="#161616">20</text>
<text x="1338.3" y="83.6" font-size="39" fill="#161616">30</text>
<text x="249.2" y="1106.4" text-anchor="middle" font-size="43" fill="#161616">-15</text>
<text x="390.7" y="1106.4" text-anchor="middle" font-size="43" fill="#161616">-10</text>
<text x="532.2" y="1106.4" text-anchor="middle" font-size="43" fill="#161616">-5</text>
<text x="673.7" y="1106.4" text-anchor="middle" font-size="43" fill="#161616">0</text>
<text x="815.2" y="1106.4" text-anchor="middle" font-size="43" fill="#161616">5</text>
<text x="956.7" y="1106.4" text-anchor="middle" font-size="43" fill="#161616">10</text>
<text x="1098.2" y="1106.4" text-anchor="middle" font-size="43" fill="#161616">15</text>
<text x="100" y="991.05" text-anchor="end" font-size="43" fill="#161616">-5</text>
<text x="100" y="849.8" text-anchor="end" font-size="43" fill="#161616">0</text>
<text x="100" y="708.55" text-anchor="end" font-size="43" fill="#161616">5</text>
<text x="673.2" y="1150.4" text-anchor="middle" font-size="48" fill="#161616">X range (km)</text>
<text transform="translate(39 833.8) rotate(-90)" text-anchor="middle" font-size="48" fill="#161616">Y range (km)</text>
<text x="1338.3" y="1060.1" font-size="39" fill="#161616">-10</text>
<text x="1338.3" y="954.75" font-size="39" fill="#161616">0</text>
<text x="1338.3" y="849.4" font-size="39" fill="#161616">10</text>
<text x="1338.3" y="744.05" font-size="39" fill="#161616">20</text>
<text x="1338.3" y="638.7" font-size="39" fill="#161616">30</text>
<text x="499" y="331" font-size="41" fill="#fff" stroke="#fff" stroke-width="0.4">Tx1</text>
<text x="615.2" y="335" font-size="41" fill="#fff" stroke="#fff" stroke-width="0.4">Rx1</text>
<text x="680.1" y="260.2" font-size="41" fill="#fff" stroke="#fff" stroke-width="0.4">Rx2</text>
<text x="781.5" y="330.1" font-size="41" fill="#fff" stroke="#fff" stroke-width="0.4">Tx2</text>
<text x="499.3" y="883" font-size="41" fill="#fff" stroke="#fff" stroke-width="0.4">Tx1</text>
<text x="613.9" y="889" font-size="41" fill="#fff" stroke="#fff" stroke-width="0.4">Rx1</text>
<text x="678.7" y="810.2" font-size="41" fill="#fff" stroke="#fff" stroke-width="0.4">Rx2</text>
<text x="781.5" y="882.8" font-size="41" fill="#fff" stroke="#fff" stroke-width="0.4">Tx2</text>
<text x="129.1" y="121" font-size="44.8" font-weight="bold" fill="#fff" stroke="#fff" stroke-width="0.3">using Ref. 1</text>
<text x="1203.2" y="679" text-anchor="end" font-size="45.3" font-weight="bold" fill="#fff" stroke="#fff" stroke-width="0.3">using Ref. 2</text>
<text x="311.1" y="55.7" font-size="47.5" font-weight="bold" fill="#000">SNR (dB) of a 0.1 m</text>
<text x="754.6" y="32.4" font-size="36" font-weight="bold" fill="#000">2</text>
<text x="789.4" y="55.7" font-size="47.5" font-weight="bold" fill="#000">RCS drone</text>
</g>
</g>
</svg>
</body></html>
